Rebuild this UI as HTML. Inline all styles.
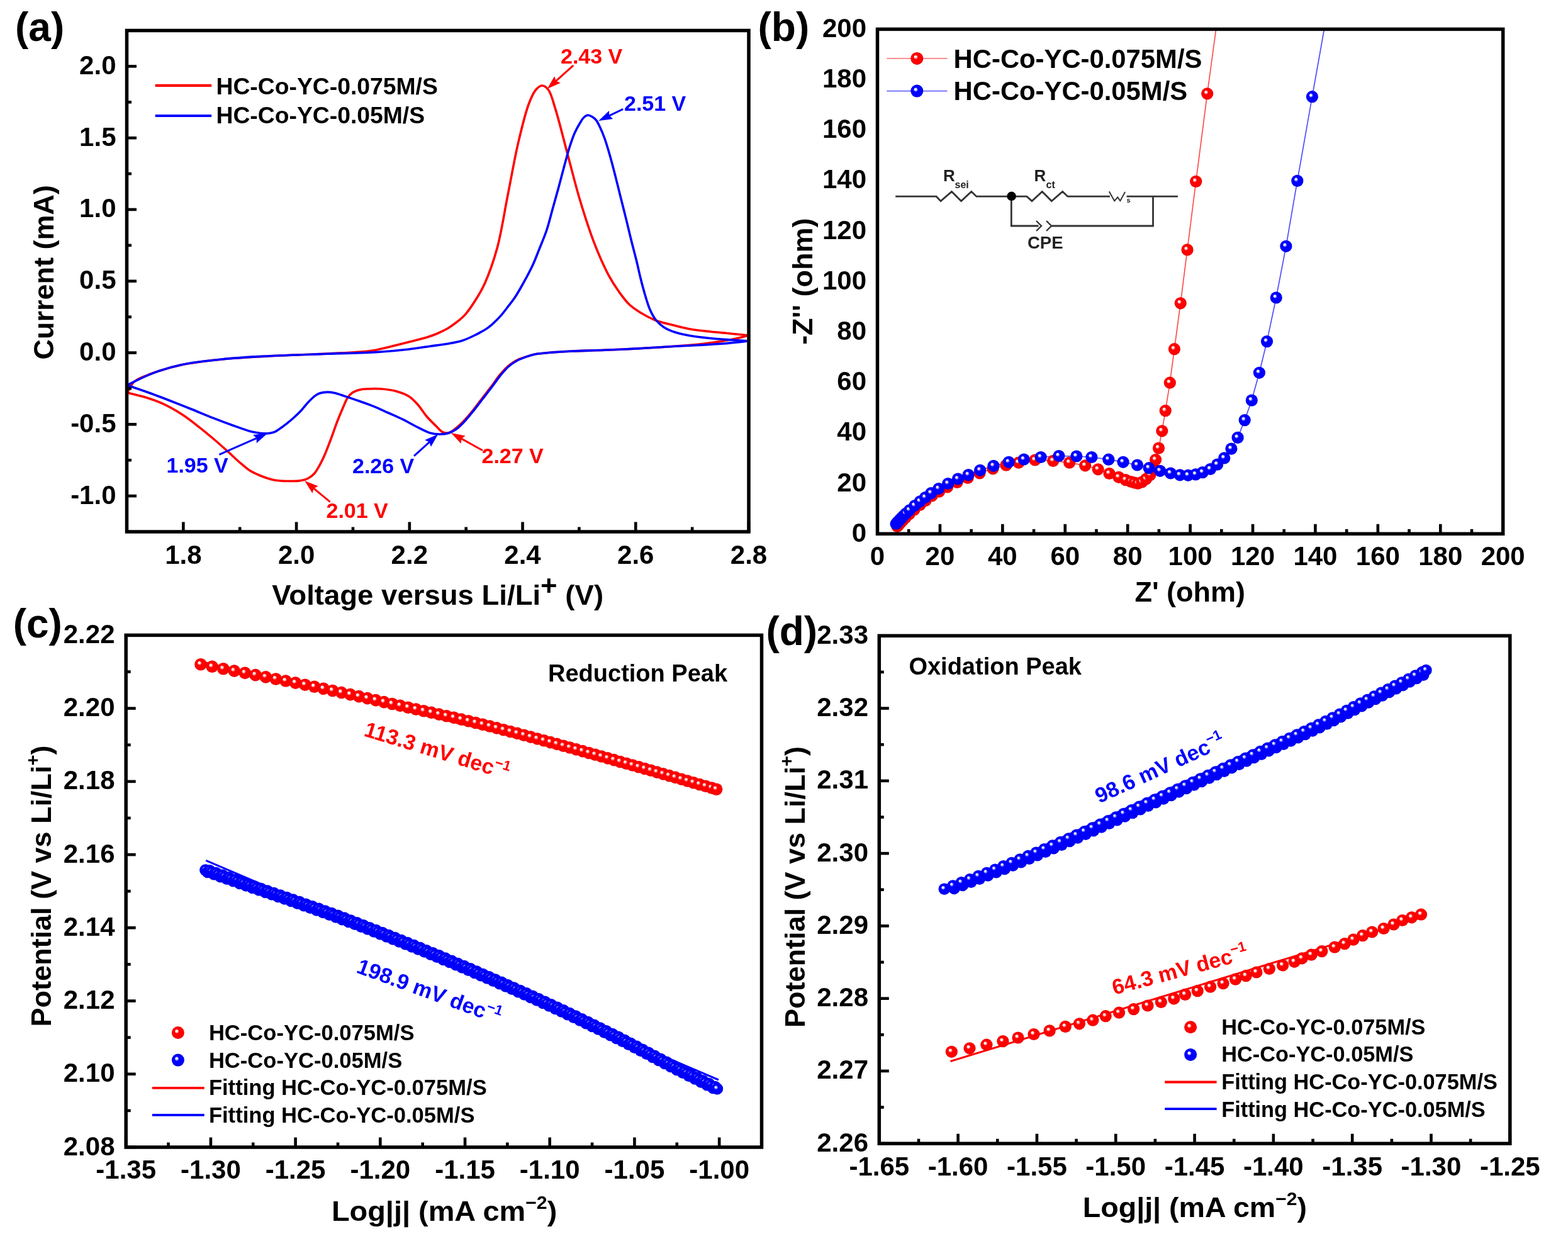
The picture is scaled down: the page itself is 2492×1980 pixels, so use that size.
<!DOCTYPE html>
<html><head><meta charset="utf-8"><title>Figure</title>
<style>html,body{margin:0;padding:0;background:#fff;overflow:hidden;}svg{display:block;}</style>
</head><body>
<svg width="2492" height="1980" viewBox="0 0 2492 1980" font-family="'Liberation Sans', Arial, Helvetica, sans-serif">
<rect width="2492" height="1980" fill="#fff"/>
<defs>
<radialGradient id="gr" cx="0.5" cy="0.5" r="0.5" fx="0.36" fy="0.34">
<stop offset="0" stop-color="#fff"/>
<stop offset="0.14" stop-color="#fff" stop-opacity="0.85"/>
<stop offset="0.36" stop-color="#ff0000"/>
<stop offset="0.85" stop-color="#ff0000"/>
<stop offset="1" stop-color="#e00000"/>
</radialGradient>
<radialGradient id="gb" cx="0.5" cy="0.5" r="0.5" fx="0.36" fy="0.34">
<stop offset="0" stop-color="#fff"/>
<stop offset="0.14" stop-color="#fff" stop-opacity="0.85"/>
<stop offset="0.36" stop-color="#0000ff"/>
<stop offset="0.85" stop-color="#0000ff"/>
<stop offset="1" stop-color="#0000dd"/>
</radialGradient>
<clipPath id="clipB"><rect x="1394.5" y="46.4" width="994.5" height="802"/></clipPath>
</defs>
<g fill="none" stroke-linejoin="round" stroke-linecap="round">
<path d="M202,624 C206,618 208.28,610.87 214,606 C220.74,600.26 230.91,597.4 241.4,593.5 C254.69,588.57 270.63,583.65 287.8,580 C308.49,575.6 334.08,572.83 357.3,570.5 C380.45,568.17 402.03,567.34 426.9,566 C455.6,564.45 491.01,563.55 519.7,562 C544.55,560.66 570.75,560.03 589.2,557.5 C601.6,555.8 609.38,553.46 620,551 C631.49,548.34 644.95,544.79 655.7,542 C664.59,539.69 672.92,537.74 680,535.5 C685.65,533.71 689.95,532.16 695,530 C700.38,527.7 706.21,524.99 711.3,522 C716.18,519.13 720.49,516.02 725,512.5 C729.8,508.76 734.43,505.42 739.2,500.1 C745.6,492.97 753.13,481.17 758.6,472.3 C763.3,464.68 766.42,459.52 770.5,450.3 C776.78,436.1 784.41,415.08 790.1,394.3 C796.95,369.32 801.38,338.23 807,310.2 C812.62,282.17 817.72,251.86 823.8,226.1 C829.04,203.87 834.75,179.64 840.6,164.5 C844.24,155.08 847.48,147.35 851.8,142.5 C854.78,139.15 858.33,136 861.6,136 C864.87,136 868.52,138.85 871.4,142.5 C876.19,148.55 878.65,160.48 882.6,172.9 C888.63,191.85 895.65,221.43 902.2,245.7 C908.75,269.99 914.76,294.89 921.9,318.6 C928.82,341.58 936.3,365.26 944.3,385.9 C951.35,404.1 959.22,422.21 966.7,436.3 C972.46,447.14 978.05,455.68 984,464 C989.29,471.39 994.18,478.27 1000.3,484 C1006.22,489.54 1013.05,493.83 1020,498 C1027.07,502.25 1034.17,506.07 1042.4,509.2 C1051.67,512.73 1063.34,515.08 1073.1,517.5 C1081.92,519.68 1089.54,521.65 1098.4,523.2 C1108.03,524.88 1118.59,525.87 1128.8,527 C1139.12,528.14 1149.7,528.99 1160,530 C1170.1,530.99 1180,532 1190,533" stroke="#ff0000" stroke-width="3.6"/>
<path d="M1190,533 C1180,535.33 1170.76,537.94 1160,540 C1147.67,542.36 1133.89,544.34 1120,546 C1105.01,547.79 1089.23,548.98 1073.1,550.2 C1055.96,551.5 1038.11,552.5 1020,553.5 C1001.05,554.54 980.64,555.54 961.8,556.3 C944.03,557.02 925.15,557.3 910,558 C898.14,558.55 888.56,559.03 878.3,559.9 C868.59,560.72 857.64,561.48 850,563 C844.65,564.06 841.14,565.45 836.6,566.9 C831.82,568.43 826.62,569.71 822,572 C817.31,574.33 812.98,577.24 808.7,580.8 C803.94,584.76 799.43,589.75 795,595 C790.13,600.77 785.63,607.96 780.9,614.2 C776.29,620.28 771.61,626 767,632 C762.34,638.06 757.93,644.41 753.1,650.4 C748.26,656.41 742.96,662.81 738,668 C733.68,672.51 729.46,676.61 725.2,680 C721.46,682.97 717.81,686.45 714,687.5 C710.72,688.41 707.19,688.32 704,687 C700.12,685.39 696.9,680.76 693,677 C688.3,672.46 682.66,667.06 677.9,661.5 C672.98,655.75 668.88,648.44 664,643 C659.57,638.07 655.59,633.5 650.1,630 C644.09,626.17 636.32,623.5 629,621.5 C621.56,619.47 613.34,618.57 605.8,618 C598.7,617.47 591.23,617.66 585,618 C579.89,618.27 575.4,618.42 571.1,619.5 C567.12,620.5 563.14,621.84 560,624 C556.99,626.06 554.77,628.66 552.5,632 C549.62,636.24 547.53,642.27 545,648 C542.13,654.49 539.3,661.28 536.3,669 C532.68,678.3 528.91,689.85 525,700 C521.17,709.94 517.5,720.29 513.1,729.3 C509.09,737.5 504.62,746.65 500,752 C496.76,755.75 493.76,758.02 489.9,760 C485.82,762.1 480.68,763.25 476,764 C471.41,764.73 466.97,764.48 462.1,764.5 C456.7,764.52 450.31,764.48 445,764 C440.33,763.58 436.55,763.13 431.9,762 C426.34,760.66 419.81,758.37 414,756 C408.21,753.64 402.56,751.26 397.1,747.8 C391.2,744.05 385.67,738.89 380,734 C374.07,728.88 368.57,723.36 362.3,717.7 C355.33,711.41 347.63,704.5 340,698 C332.21,691.36 324.24,684.73 316,678.3 C307.58,671.73 299.33,665.02 290,659 C280.08,652.6 268.5,646 258,641.2 C248.53,636.87 239.38,633.89 230,631 C220.81,628.17 211.53,626.33 202.3,624" stroke="#ff0000" stroke-width="3.6"/>
<path d="M202,612 C215.13,605.87 227.53,598.89 241.4,593.6 C256.04,588.02 270.61,583.4 287.8,579.7 C308.48,575.25 334.09,572.72 357.3,570.4 C380.45,568.09 402.02,567.09 426.9,565.8 C455.6,564.31 489.88,563.38 519.7,562.3 C547.43,561.29 576.41,560.97 600,559.5 C618.65,558.34 635.02,556.75 650,555 C662.3,553.57 672.99,551.69 683.5,550.2 C692.85,548.88 701.4,547.99 710,546.5 C718.25,545.07 726.38,543.95 734.1,541.5 C741.7,539.09 748.95,535.55 756,532 C762.95,528.5 769.77,525.09 776.1,520.4 C782.75,515.47 789.53,508.58 794.8,502.9 C799.2,498.16 802.23,493.84 806,489 C810.02,483.84 814.32,478.58 818.2,472.8 C822.34,466.64 825.86,460.38 830,453 C835.08,443.94 841.55,432.25 846.2,422.3 C850.41,413.3 853.38,405.05 857,396 C860.84,386.42 865.15,376.57 868.6,366.3 C872.19,355.6 874.82,344.38 878,333 C881.34,321.04 884.96,308.16 888.2,296.2 C891.28,284.86 894.1,273.63 897,263 C899.69,253.13 902.17,243.39 905,234.5 C907.54,226.51 909.98,218.84 913,212 C915.69,205.91 919.08,199.92 921.9,195.3 C924.02,191.83 925.65,188.6 928,186.5 C929.95,184.76 932.3,183.14 934.5,183 C936.64,182.86 938.96,184.31 941,185.5 C943.17,186.76 945.2,188.22 947.1,190.5 C949.65,193.56 951.81,198.41 954,203 C956.52,208.28 958.8,214.07 961.1,220.5 C963.83,228.15 966.38,236.9 969,246 C971.98,256.36 975.05,268.32 977.9,279.4 C980.71,290.32 983.24,300.97 986,312 C988.84,323.36 991.86,335.08 994.7,346.6 C997.53,358.08 1000.17,369.66 1003,381 C1005.77,392.13 1008.91,403.44 1011.5,414 C1013.88,423.7 1015.71,432.86 1018,442 C1020.22,450.85 1022.45,459.54 1025,468 C1027.47,476.2 1029.87,484.94 1033,492 C1035.66,498.01 1038.29,503.3 1042,508 C1045.65,512.61 1050,516.72 1055,520 C1060.29,523.47 1066.35,525.78 1073.1,528 C1081.07,530.62 1090.84,532.43 1100,534 C1109.4,535.61 1119,536.51 1128.8,537.5 C1138.98,538.53 1149.7,539.24 1160,540 C1170.1,540.74 1180,541.33 1190,542" stroke="#0000ff" stroke-width="3.6"/>
<path d="M1190,542 C1176.67,543.33 1163.34,544.92 1150,546 C1136.68,547.08 1123.07,547.79 1110,548.5 C1097.45,549.18 1086.51,549.47 1073.1,550.2 C1057,551.07 1038.11,552.5 1020,553.5 C1001.05,554.54 980.64,555.54 961.8,556.3 C944.03,557.02 925.15,557.3 910,558 C898.14,558.55 888.56,559.03 878.3,559.9 C868.59,560.72 857.64,561.48 850,563 C844.65,564.06 841.12,565.3 836.6,566.9 C831.79,568.6 826.63,570.5 822,573 C817.33,575.52 812.96,578.32 808.7,582 C803.91,586.14 799.46,591.58 795,597 C790.18,602.85 785.61,609.77 780.9,616 C776.28,622.1 771.63,628 767,634 C762.37,640 757.89,646.05 753.1,652 C748.23,658.05 742.98,664.74 738,670 C733.69,674.55 729.75,678.85 725.2,682 C721.04,684.88 716.54,687.17 712,688.5 C707.66,689.77 703.2,690.05 698.6,690 C693.71,689.95 688.95,689.6 683.5,688 C676.38,685.92 667.41,680.7 660,677 C653.18,673.6 647.44,670.06 640.6,666.7 C633.17,663.05 624.8,659.51 617,656 C609.34,652.55 601.97,648.95 594.2,645.8 C586.31,642.61 577.9,639.76 570,637 C562.48,634.38 554.67,631.82 547.9,629.6 C542.17,627.72 536.98,625.58 532,624.5 C527.77,623.58 523.99,623.02 520,623.1 C515.99,623.18 511.32,623.9 508,625 C505.42,625.85 503.85,626.74 501.5,628.4 C498.06,630.82 493.73,635.11 490,639 C485.98,643.19 482.37,648.49 478.3,652.8 C474.36,656.97 470.03,660.9 466,664.5 C462.31,667.79 458.71,670.78 455.1,673.6 C451.71,676.25 448.26,678.78 445,681 C442.08,682.99 439.44,685.14 436.5,686.4 C433.76,687.57 430.78,688.11 428,688.5 C425.39,688.87 423.16,688.89 420.3,688.8 C416.67,688.68 411.96,688.13 408,687.5 C404.24,686.91 401.5,686.41 397.1,685.2 C390.04,683.27 379.3,679.32 370,676 C360.01,672.43 349.62,668.52 339.1,664.4 C327.98,660.05 316.49,655.11 305,650.5 C293.32,645.81 281.35,641.03 269.6,636.5 C258.02,632.04 246.4,627.61 235,623.5 C223.97,619.52 213.2,615.97 202.3,612.2" stroke="#0000ff" stroke-width="3.6"/>
</g>
<rect x="201.5" y="48.5" width="988.5" height="796.5" fill="none" stroke="#000" stroke-width="5.5"/>
<line x1="291.36" y1="845" x2="291.36" y2="829.5" stroke="#000" stroke-width="4.6"/>
<line x1="471.09" y1="845" x2="471.09" y2="829.5" stroke="#000" stroke-width="4.6"/>
<line x1="650.82" y1="845" x2="650.82" y2="829.5" stroke="#000" stroke-width="4.6"/>
<line x1="830.55" y1="845" x2="830.55" y2="829.5" stroke="#000" stroke-width="4.6"/>
<line x1="1010.27" y1="845" x2="1010.27" y2="829.5" stroke="#000" stroke-width="4.6"/>
<line x1="1190" y1="845" x2="1190" y2="829.5" stroke="#000" stroke-width="4.6"/>
<line x1="381.23" y1="845" x2="381.23" y2="837.5" stroke="#000" stroke-width="4.6"/>
<line x1="560.95" y1="845" x2="560.95" y2="837.5" stroke="#000" stroke-width="4.6"/>
<line x1="740.68" y1="845" x2="740.68" y2="837.5" stroke="#000" stroke-width="4.6"/>
<line x1="920.41" y1="845" x2="920.41" y2="837.5" stroke="#000" stroke-width="4.6"/>
<line x1="1100.14" y1="845" x2="1100.14" y2="837.5" stroke="#000" stroke-width="4.6"/>
<line x1="201.5" y1="788.11" x2="217" y2="788.11" stroke="#000" stroke-width="4.6"/>
<line x1="201.5" y1="674.32" x2="217" y2="674.32" stroke="#000" stroke-width="4.6"/>
<line x1="201.5" y1="560.54" x2="217" y2="560.54" stroke="#000" stroke-width="4.6"/>
<line x1="201.5" y1="446.75" x2="217" y2="446.75" stroke="#000" stroke-width="4.6"/>
<line x1="201.5" y1="332.96" x2="217" y2="332.96" stroke="#000" stroke-width="4.6"/>
<line x1="201.5" y1="219.18" x2="217" y2="219.18" stroke="#000" stroke-width="4.6"/>
<line x1="201.5" y1="105.39" x2="217" y2="105.39" stroke="#000" stroke-width="4.6"/>
<line x1="201.5" y1="731.21" x2="209" y2="731.21" stroke="#000" stroke-width="4.6"/>
<line x1="201.5" y1="617.43" x2="209" y2="617.43" stroke="#000" stroke-width="4.6"/>
<line x1="201.5" y1="503.64" x2="209" y2="503.64" stroke="#000" stroke-width="4.6"/>
<line x1="201.5" y1="389.86" x2="209" y2="389.86" stroke="#000" stroke-width="4.6"/>
<line x1="201.5" y1="276.07" x2="209" y2="276.07" stroke="#000" stroke-width="4.6"/>
<line x1="201.5" y1="162.29" x2="209" y2="162.29" stroke="#000" stroke-width="4.6"/>
<text x="291.36" y="896" font-size="42" text-anchor="middle" fill="#000" font-weight="bold" >1.8</text>
<text x="471.09" y="896" font-size="42" text-anchor="middle" fill="#000" font-weight="bold" >2.0</text>
<text x="650.82" y="896" font-size="42" text-anchor="middle" fill="#000" font-weight="bold" >2.2</text>
<text x="830.55" y="896" font-size="42" text-anchor="middle" fill="#000" font-weight="bold" >2.4</text>
<text x="1010.27" y="896" font-size="42" text-anchor="middle" fill="#000" font-weight="bold" >2.6</text>
<text x="1190" y="896" font-size="42" text-anchor="middle" fill="#000" font-weight="bold" >2.8</text>
<text x="184.5" y="800.61" font-size="42" text-anchor="end" fill="#000" font-weight="bold" >-1.0</text>
<text x="184.5" y="686.82" font-size="42" text-anchor="end" fill="#000" font-weight="bold" >-0.5</text>
<text x="184.5" y="573.04" font-size="42" text-anchor="end" fill="#000" font-weight="bold" >0.0</text>
<text x="184.5" y="459.25" font-size="42" text-anchor="end" fill="#000" font-weight="bold" >0.5</text>
<text x="184.5" y="345.46" font-size="42" text-anchor="end" fill="#000" font-weight="bold" >1.0</text>
<text x="184.5" y="231.68" font-size="42" text-anchor="end" fill="#000" font-weight="bold" >1.5</text>
<text x="184.5" y="117.89" font-size="42" text-anchor="end" fill="#000" font-weight="bold" >2.0</text>
<line x1="246.7" y1="135.9" x2="336.2" y2="135.9" stroke="#ff0000" stroke-width="4.2"/>
<line x1="246.7" y1="184" x2="336.2" y2="184" stroke="#0000ff" stroke-width="4.2"/>
<text x="343.5" y="149.9" font-size="37.3" text-anchor="start" fill="#000" font-weight="bold" >HC-Co-YC-0.075M/S</text>
<text x="343.5" y="196.2" font-size="37.3" text-anchor="start" fill="#000" font-weight="bold" >HC-Co-YC-0.05M/S</text>
<text x="891" y="101" font-size="34" text-anchor="start" fill="#ff0000" font-weight="bold" >2.43 V</text>
<text x="992" y="176.2" font-size="34" text-anchor="start" fill="#0000ff" font-weight="bold" >2.51 V</text>
<text x="264.5" y="751.3" font-size="34" text-anchor="start" fill="#0000ff" font-weight="bold" >1.95 V</text>
<text x="560" y="752" font-size="34" text-anchor="start" fill="#0000ff" font-weight="bold" >2.26 V</text>
<text x="518.5" y="823.2" font-size="34" text-anchor="start" fill="#ff0000" font-weight="bold" >2.01 V</text>
<text x="765.5" y="736.1" font-size="34" text-anchor="start" fill="#ff0000" font-weight="bold" >2.27 V</text>
<line x1="911.3" y1="103.8" x2="883.68" y2="128.57" stroke="#ff0000" stroke-width="3.0"/>
<polygon points="869.6,141.2 881.17,121.15 883.68,128.57 890.79,131.87" fill="#ff0000"/>
<line x1="990.2" y1="173.4" x2="968.29" y2="183.79" stroke="#0000ff" stroke-width="3.0"/>
<polygon points="951.2,191.9 967.99,175.97 968.29,183.79 974.16,188.98" fill="#0000ff"/>
<line x1="348.4" y1="722.3" x2="407.67" y2="696.3" stroke="#0000ff" stroke-width="3.0"/>
<polygon points="425,688.7 407.75,704.13 407.67,696.3 401.96,690.94" fill="#0000ff"/>
<line x1="658" y1="724.7" x2="682.3" y2="702.62" stroke="#0000ff" stroke-width="3.0"/>
<polygon points="696.3,689.9 684.86,710.02 682.3,702.62 675.18,699.37" fill="#0000ff"/>
<line x1="524.7" y1="797.7" x2="498.68" y2="776.16" stroke="#ff0000" stroke-width="3.0"/>
<polygon points="484.1,764.1 505.64,772.58 498.68,776.16 496.46,783.67" fill="#ff0000"/>
<line x1="767" y1="715.8" x2="733.44" y2="697.18" stroke="#ff0000" stroke-width="3.0"/>
<polygon points="716.9,688 739.63,692.38 733.44,697.18 732.64,704.97" fill="#ff0000"/>
<text x="24" y="64.6" font-size="64" text-anchor="start" fill="#000" font-weight="bold" >(a)</text>
<text transform="translate(695.7,960.7) scale(1.012,1)" x="0" y="0" font-size="45" text-anchor="middle" font-weight="bold">Voltage versus Li/Li<tspan font-size="45" dy="-15">+</tspan><tspan dy="15"> (V)</tspan></text>
<text transform="translate(84.9,432.8) rotate(-90)" x="0" y="0" font-size="45" text-anchor="middle" font-weight="bold">Current (mA)</text>
<g fill="none" stroke="#333" stroke-width="2.8" stroke-linejoin="miter">
<polyline points="1423.2,312.2 1488.1,312.2 1495.1,319.6 1512.5,304.5 1527.6,319.6 1543.8,304.5 1551.9,312.2 1631.9,312.2 1640,319.6 1656.3,304.5 1671.3,319.6 1688.7,304.5 1696.8,312.2 1764,312.2"/>
<polyline points="1762.7,304.3 1771.2,319.2 1776.4,313.4 1780.3,319.2 1788.1,304.9" stroke-width="2"/>
<polyline points="1790.6,312.2 1871.9,312.2"/>
<polyline points="1607.3,312.2 1607.3,359 1650.5,359"/>
<polyline points="1647,351 1655,359 1647,367" stroke-width="2.4"/>
<polyline points="1663,351 1671,359 1663,367" stroke-width="2.4"/>
<polyline points="1671,359 1832.5,359 1832.5,312.2"/>
</g>
<circle cx="1607.6" cy="311.8" r="7.3" fill="#000"/>
<text x="1499" y="288.3" font-size="26" text-anchor="start" fill="#222" font-weight="bold" >R</text>
<text x="1517.5" y="298.5" font-size="16" text-anchor="start" fill="#222" font-weight="bold" >sei</text>
<text x="1643.5" y="288.3" font-size="26" text-anchor="start" fill="#222" font-weight="bold" >R</text>
<text x="1662.5" y="298.5" font-size="16" text-anchor="start" fill="#222" font-weight="bold" >ct</text>
<text x="1790.5" y="321.5" font-size="11" text-anchor="start" fill="#222" font-weight="bold" >s</text>
<text x="1633" y="395" font-size="27.5" text-anchor="start" fill="#222" font-weight="bold" >CPE</text>
<g clip-path="url(#clipB)">
<polyline points="1426,836.55 1427.5,834.86 1429.5,832.6 1432,829.78 1435,826.64 1439,822.62 1445,816.97 1453,809.87 1462,802.42 1471,795.53 1481,787.98 1492.5,781.14 1505.5,773.96 1521,766.38 1538,759.42 1557,751.85 1578,744.68 1599,739.14 1618.9,735.2 1644.9,731 1673.7,732.4 1699.6,735.1 1724.7,739.8 1745.1,745.8 1763,752.5 1778,758.3 1789,762.6 1797.5,765.5 1803,767 1808.4,768.2 1814.9,766 1821.4,761.3 1827.9,754.8 1834.4,745.5 1836.6,730.5 1841.5,712.1 1846.8,684.8 1852.2,652.6 1859.3,608.2 1866.4,554.7 1876.2,481.8 1887,396.9 1900.7,288.4 1918.7,148.8 1926,95 1933.5,40" fill="none" stroke="#ff0000" stroke-width="1.7" stroke-opacity="0.7"/>
<polyline points="1424.1,832.5 1425.5,830.93 1427.2,829.02 1429.7,826.22 1432.5,823.2 1435.5,820.2 1439.5,816.2 1445.5,810.81 1453.8,803.55 1462.2,796.81 1470.5,790.57 1479.8,783.6 1491.8,776.58 1506.7,768.5 1522.4,761.1 1539.1,754.6 1557.7,747.3 1579,740.3 1603.2,734.3 1627.3,730 1654.2,726.5 1682.9,724.5 1710.8,725 1734.9,726.5 1761.8,730.2 1785,734.3 1807.5,739 1826.1,743.7 1843.7,748.3 1860.4,752 1875.2,754.8 1888.2,755.3 1900.3,753.9 1911.4,750.6 1923.5,745.5 1934.6,738.1 1945.7,727.9 1956.9,713.1 1967.1,695.4 1978.2,667.6 1989.3,636.1 2001.4,592.3 2013.5,542.6 2028.2,473 2043.9,391.3 2061.8,287.4 2085.4,153.7 2095,100 2106,38" fill="none" stroke="#0000ff" stroke-width="1.7" stroke-opacity="0.7"/>
<circle cx="1426" cy="836.55" r="9.6" fill="url(#gr)"/>
<circle cx="1427.5" cy="834.86" r="9.6" fill="url(#gr)"/>
<circle cx="1429.5" cy="832.6" r="9.6" fill="url(#gr)"/>
<circle cx="1432" cy="829.78" r="9.6" fill="url(#gr)"/>
<circle cx="1435" cy="826.64" r="9.6" fill="url(#gr)"/>
<circle cx="1439" cy="822.62" r="9.6" fill="url(#gr)"/>
<circle cx="1445" cy="816.97" r="9.6" fill="url(#gr)"/>
<circle cx="1453" cy="809.87" r="9.6" fill="url(#gr)"/>
<circle cx="1462" cy="802.42" r="9.6" fill="url(#gr)"/>
<circle cx="1471" cy="795.53" r="9.6" fill="url(#gr)"/>
<circle cx="1481" cy="787.98" r="9.6" fill="url(#gr)"/>
<circle cx="1492.5" cy="781.14" r="9.6" fill="url(#gr)"/>
<circle cx="1505.5" cy="773.96" r="9.6" fill="url(#gr)"/>
<circle cx="1521" cy="766.38" r="9.6" fill="url(#gr)"/>
<circle cx="1538" cy="759.42" r="9.6" fill="url(#gr)"/>
<circle cx="1557" cy="751.85" r="9.6" fill="url(#gr)"/>
<circle cx="1578" cy="744.68" r="9.6" fill="url(#gr)"/>
<circle cx="1599" cy="739.14" r="9.6" fill="url(#gr)"/>
<circle cx="1618.9" cy="735.2" r="9.6" fill="url(#gr)"/>
<circle cx="1644.9" cy="731" r="9.6" fill="url(#gr)"/>
<circle cx="1673.7" cy="732.4" r="9.6" fill="url(#gr)"/>
<circle cx="1699.6" cy="735.1" r="9.6" fill="url(#gr)"/>
<circle cx="1724.7" cy="739.8" r="9.6" fill="url(#gr)"/>
<circle cx="1745.1" cy="745.8" r="9.6" fill="url(#gr)"/>
<circle cx="1763" cy="752.5" r="9.6" fill="url(#gr)"/>
<circle cx="1778" cy="758.3" r="9.6" fill="url(#gr)"/>
<circle cx="1789" cy="762.6" r="9.6" fill="url(#gr)"/>
<circle cx="1797.5" cy="765.5" r="9.6" fill="url(#gr)"/>
<circle cx="1803" cy="767" r="9.6" fill="url(#gr)"/>
<circle cx="1808.4" cy="768.2" r="9.6" fill="url(#gr)"/>
<circle cx="1814.9" cy="766" r="9.6" fill="url(#gr)"/>
<circle cx="1821.4" cy="761.3" r="9.6" fill="url(#gr)"/>
<circle cx="1827.9" cy="754.8" r="9.6" fill="url(#gr)"/>
<circle cx="1834.4" cy="745.5" r="9.6" fill="url(#gr)"/>
<circle cx="1836.6" cy="730.5" r="9.6" fill="url(#gr)"/>
<circle cx="1841.5" cy="712.1" r="9.6" fill="url(#gr)"/>
<circle cx="1846.8" cy="684.8" r="9.6" fill="url(#gr)"/>
<circle cx="1852.2" cy="652.6" r="9.6" fill="url(#gr)"/>
<circle cx="1859.3" cy="608.2" r="9.6" fill="url(#gr)"/>
<circle cx="1866.4" cy="554.7" r="9.6" fill="url(#gr)"/>
<circle cx="1876.2" cy="481.8" r="9.6" fill="url(#gr)"/>
<circle cx="1887" cy="396.9" r="9.6" fill="url(#gr)"/>
<circle cx="1900.7" cy="288.4" r="9.6" fill="url(#gr)"/>
<circle cx="1918.7" cy="148.8" r="9.6" fill="url(#gr)"/>
<circle cx="1424.1" cy="832.5" r="9.6" fill="url(#gb)"/>
<circle cx="1425.5" cy="830.93" r="9.6" fill="url(#gb)"/>
<circle cx="1427.2" cy="829.02" r="9.6" fill="url(#gb)"/>
<circle cx="1429.7" cy="826.22" r="9.6" fill="url(#gb)"/>
<circle cx="1432.5" cy="823.2" r="9.6" fill="url(#gb)"/>
<circle cx="1435.5" cy="820.2" r="9.6" fill="url(#gb)"/>
<circle cx="1439.5" cy="816.2" r="9.6" fill="url(#gb)"/>
<circle cx="1445.5" cy="810.81" r="9.6" fill="url(#gb)"/>
<circle cx="1453.8" cy="803.55" r="9.6" fill="url(#gb)"/>
<circle cx="1462.2" cy="796.81" r="9.6" fill="url(#gb)"/>
<circle cx="1470.5" cy="790.57" r="9.6" fill="url(#gb)"/>
<circle cx="1479.8" cy="783.6" r="9.6" fill="url(#gb)"/>
<circle cx="1491.8" cy="776.58" r="9.6" fill="url(#gb)"/>
<circle cx="1506.7" cy="768.5" r="9.6" fill="url(#gb)"/>
<circle cx="1522.4" cy="761.1" r="9.6" fill="url(#gb)"/>
<circle cx="1539.1" cy="754.6" r="9.6" fill="url(#gb)"/>
<circle cx="1557.7" cy="747.3" r="9.6" fill="url(#gb)"/>
<circle cx="1579" cy="740.3" r="9.6" fill="url(#gb)"/>
<circle cx="1603.2" cy="734.3" r="9.6" fill="url(#gb)"/>
<circle cx="1627.3" cy="730" r="9.6" fill="url(#gb)"/>
<circle cx="1654.2" cy="726.5" r="9.6" fill="url(#gb)"/>
<circle cx="1682.9" cy="724.5" r="9.6" fill="url(#gb)"/>
<circle cx="1710.8" cy="725" r="9.6" fill="url(#gb)"/>
<circle cx="1734.9" cy="726.5" r="9.6" fill="url(#gb)"/>
<circle cx="1761.8" cy="730.2" r="9.6" fill="url(#gb)"/>
<circle cx="1785" cy="734.3" r="9.6" fill="url(#gb)"/>
<circle cx="1807.5" cy="739" r="9.6" fill="url(#gb)"/>
<circle cx="1826.1" cy="743.7" r="9.6" fill="url(#gb)"/>
<circle cx="1843.7" cy="748.3" r="9.6" fill="url(#gb)"/>
<circle cx="1860.4" cy="752" r="9.6" fill="url(#gb)"/>
<circle cx="1875.2" cy="754.8" r="9.6" fill="url(#gb)"/>
<circle cx="1888.2" cy="755.3" r="9.6" fill="url(#gb)"/>
<circle cx="1900.3" cy="753.9" r="9.6" fill="url(#gb)"/>
<circle cx="1911.4" cy="750.6" r="9.6" fill="url(#gb)"/>
<circle cx="1923.5" cy="745.5" r="9.6" fill="url(#gb)"/>
<circle cx="1934.6" cy="738.1" r="9.6" fill="url(#gb)"/>
<circle cx="1945.7" cy="727.9" r="9.6" fill="url(#gb)"/>
<circle cx="1956.9" cy="713.1" r="9.6" fill="url(#gb)"/>
<circle cx="1967.1" cy="695.4" r="9.6" fill="url(#gb)"/>
<circle cx="1978.2" cy="667.6" r="9.6" fill="url(#gb)"/>
<circle cx="1989.3" cy="636.1" r="9.6" fill="url(#gb)"/>
<circle cx="2001.4" cy="592.3" r="9.6" fill="url(#gb)"/>
<circle cx="2013.5" cy="542.6" r="9.6" fill="url(#gb)"/>
<circle cx="2028.2" cy="473" r="9.6" fill="url(#gb)"/>
<circle cx="2043.9" cy="391.3" r="9.6" fill="url(#gb)"/>
<circle cx="2061.8" cy="287.4" r="9.6" fill="url(#gb)"/>
<circle cx="2085.4" cy="153.7" r="9.6" fill="url(#gb)"/>
</g>
<rect x="1394.5" y="46.4" width="994.2" height="801.9" fill="none" stroke="#000" stroke-width="5.5"/>
<line x1="1394.5" y1="848.3" x2="1394.5" y2="832.8" stroke="#000" stroke-width="4.6"/>
<line x1="1493.92" y1="848.3" x2="1493.92" y2="832.8" stroke="#000" stroke-width="4.6"/>
<line x1="1593.34" y1="848.3" x2="1593.34" y2="832.8" stroke="#000" stroke-width="4.6"/>
<line x1="1692.76" y1="848.3" x2="1692.76" y2="832.8" stroke="#000" stroke-width="4.6"/>
<line x1="1792.18" y1="848.3" x2="1792.18" y2="832.8" stroke="#000" stroke-width="4.6"/>
<line x1="1891.6" y1="848.3" x2="1891.6" y2="832.8" stroke="#000" stroke-width="4.6"/>
<line x1="1991.02" y1="848.3" x2="1991.02" y2="832.8" stroke="#000" stroke-width="4.6"/>
<line x1="2090.44" y1="848.3" x2="2090.44" y2="832.8" stroke="#000" stroke-width="4.6"/>
<line x1="2189.86" y1="848.3" x2="2189.86" y2="832.8" stroke="#000" stroke-width="4.6"/>
<line x1="2289.28" y1="848.3" x2="2289.28" y2="832.8" stroke="#000" stroke-width="4.6"/>
<line x1="2388.7" y1="848.3" x2="2388.7" y2="832.8" stroke="#000" stroke-width="4.6"/>
<line x1="1444.21" y1="848.3" x2="1444.21" y2="840.8" stroke="#000" stroke-width="4.6"/>
<line x1="1543.63" y1="848.3" x2="1543.63" y2="840.8" stroke="#000" stroke-width="4.6"/>
<line x1="1643.05" y1="848.3" x2="1643.05" y2="840.8" stroke="#000" stroke-width="4.6"/>
<line x1="1742.47" y1="848.3" x2="1742.47" y2="840.8" stroke="#000" stroke-width="4.6"/>
<line x1="1841.89" y1="848.3" x2="1841.89" y2="840.8" stroke="#000" stroke-width="4.6"/>
<line x1="1941.31" y1="848.3" x2="1941.31" y2="840.8" stroke="#000" stroke-width="4.6"/>
<line x1="2040.73" y1="848.3" x2="2040.73" y2="840.8" stroke="#000" stroke-width="4.6"/>
<line x1="2140.15" y1="848.3" x2="2140.15" y2="840.8" stroke="#000" stroke-width="4.6"/>
<line x1="2239.57" y1="848.3" x2="2239.57" y2="840.8" stroke="#000" stroke-width="4.6"/>
<line x1="2338.99" y1="848.3" x2="2338.99" y2="840.8" stroke="#000" stroke-width="4.6"/>
<text x="1394.5" y="898" font-size="42" text-anchor="middle" fill="#000" font-weight="bold" >0</text>
<text x="1493.92" y="898" font-size="42" text-anchor="middle" fill="#000" font-weight="bold" >20</text>
<text x="1593.34" y="898" font-size="42" text-anchor="middle" fill="#000" font-weight="bold" >40</text>
<text x="1692.76" y="898" font-size="42" text-anchor="middle" fill="#000" font-weight="bold" >60</text>
<text x="1792.18" y="898" font-size="42" text-anchor="middle" fill="#000" font-weight="bold" >80</text>
<text x="1891.6" y="898" font-size="42" text-anchor="middle" fill="#000" font-weight="bold" >100</text>
<text x="1991.02" y="898" font-size="42" text-anchor="middle" fill="#000" font-weight="bold" >120</text>
<text x="2090.44" y="898" font-size="42" text-anchor="middle" fill="#000" font-weight="bold" >140</text>
<text x="2189.86" y="898" font-size="42" text-anchor="middle" fill="#000" font-weight="bold" >160</text>
<text x="2289.28" y="898" font-size="42" text-anchor="middle" fill="#000" font-weight="bold" >180</text>
<text x="2388.7" y="898" font-size="42" text-anchor="middle" fill="#000" font-weight="bold" >200</text>
<text x="1377" y="860.8" font-size="42" text-anchor="end" fill="#000" font-weight="bold" >0</text>
<text x="1377" y="780.61" font-size="42" text-anchor="end" fill="#000" font-weight="bold" >20</text>
<text x="1377" y="700.42" font-size="42" text-anchor="end" fill="#000" font-weight="bold" >40</text>
<text x="1377" y="620.23" font-size="42" text-anchor="end" fill="#000" font-weight="bold" >60</text>
<text x="1377" y="540.04" font-size="42" text-anchor="end" fill="#000" font-weight="bold" >80</text>
<text x="1377" y="459.85" font-size="42" text-anchor="end" fill="#000" font-weight="bold" >100</text>
<text x="1377" y="379.66" font-size="42" text-anchor="end" fill="#000" font-weight="bold" >120</text>
<text x="1377" y="299.47" font-size="42" text-anchor="end" fill="#000" font-weight="bold" >140</text>
<text x="1377" y="219.28" font-size="42" text-anchor="end" fill="#000" font-weight="bold" >160</text>
<text x="1377" y="139.09" font-size="42" text-anchor="end" fill="#000" font-weight="bold" >180</text>
<text x="1377" y="58.9" font-size="42" text-anchor="end" fill="#000" font-weight="bold" >200</text>
<line x1="1409.3" y1="92.9" x2="1505.5" y2="92.9" stroke="#ff0000" stroke-width="1.7" stroke-opacity="0.5"/>
<line x1="1409.3" y1="144.6" x2="1505.5" y2="144.6" stroke="#0000ff" stroke-width="1.7" stroke-opacity="0.6"/>
<circle cx="1457.3" cy="92.9" r="10" fill="url(#gr)"/>
<circle cx="1457.3" cy="144.6" r="10" fill="url(#gb)"/>
<text x="1515.6" y="108" font-size="41.8" text-anchor="start" fill="#000" font-weight="bold" >HC-Co-YC-0.075M/S</text>
<text x="1515.6" y="158.8" font-size="41.8" text-anchor="start" fill="#000" font-weight="bold" >HC-Co-YC-0.05M/S</text>
<text x="1204.5" y="64.6" font-size="64" text-anchor="start" fill="#000" font-weight="bold" >(b)</text>
<text x="1891.25" y="956.3" font-size="45" text-anchor="middle" fill="#000" font-weight="bold" >Z' (ohm)</text>
<text transform="translate(1290.5,447.2) rotate(-90)" x="0" y="0" font-size="45" text-anchor="middle" font-weight="bold">-Z'' (ohm)</text>
<line x1="318" y1="1051" x2="1146" y2="1249" stroke="#ff0000" stroke-width="3"/>
<line x1="327.3" y1="1367.3" x2="1142" y2="1716" stroke="#0000ff" stroke-width="3"/>
<circle cx="319" cy="1055.8" r="9.8" fill="url(#gr)"/>
<circle cx="337.16" cy="1059.31" r="9.8" fill="url(#gr)"/>
<circle cx="354.93" cy="1062.75" r="9.8" fill="url(#gr)"/>
<circle cx="372.32" cy="1066.11" r="9.8" fill="url(#gr)"/>
<circle cx="389.34" cy="1069.42" r="9.8" fill="url(#gr)"/>
<circle cx="406.02" cy="1072.67" r="9.8" fill="url(#gr)"/>
<circle cx="422.37" cy="1075.86" r="9.8" fill="url(#gr)"/>
<circle cx="438.41" cy="1078.98" r="9.8" fill="url(#gr)"/>
<circle cx="454.14" cy="1082.06" r="9.8" fill="url(#gr)"/>
<circle cx="469.59" cy="1085.12" r="9.8" fill="url(#gr)"/>
<circle cx="484.75" cy="1088.19" r="9.8" fill="url(#gr)"/>
<circle cx="499.63" cy="1091.27" r="9.8" fill="url(#gr)"/>
<circle cx="514.25" cy="1094.37" r="9.8" fill="url(#gr)"/>
<circle cx="528.62" cy="1097.47" r="9.8" fill="url(#gr)"/>
<circle cx="542.76" cy="1100.56" r="9.8" fill="url(#gr)"/>
<circle cx="556.67" cy="1103.61" r="9.8" fill="url(#gr)"/>
<circle cx="570.38" cy="1106.64" r="9.8" fill="url(#gr)"/>
<circle cx="583.88" cy="1109.65" r="9.8" fill="url(#gr)"/>
<circle cx="597.18" cy="1112.64" r="9.8" fill="url(#gr)"/>
<circle cx="610.3" cy="1115.59" r="9.8" fill="url(#gr)"/>
<circle cx="623.24" cy="1118.52" r="9.8" fill="url(#gr)"/>
<circle cx="636.01" cy="1121.4" r="9.8" fill="url(#gr)"/>
<circle cx="648.63" cy="1124.23" r="9.8" fill="url(#gr)"/>
<circle cx="661.09" cy="1127" r="9.8" fill="url(#gr)"/>
<circle cx="673.42" cy="1129.72" r="9.8" fill="url(#gr)"/>
<circle cx="685.6" cy="1132.41" r="9.8" fill="url(#gr)"/>
<circle cx="697.64" cy="1135.08" r="9.8" fill="url(#gr)"/>
<circle cx="709.55" cy="1137.75" r="9.8" fill="url(#gr)"/>
<circle cx="721.33" cy="1140.41" r="9.8" fill="url(#gr)"/>
<circle cx="732.98" cy="1143.09" r="9.8" fill="url(#gr)"/>
<circle cx="744.51" cy="1145.79" r="9.8" fill="url(#gr)"/>
<circle cx="755.91" cy="1148.51" r="9.8" fill="url(#gr)"/>
<circle cx="767.2" cy="1151.28" r="9.8" fill="url(#gr)"/>
<circle cx="778.37" cy="1154.07" r="9.8" fill="url(#gr)"/>
<circle cx="789.44" cy="1156.89" r="9.8" fill="url(#gr)"/>
<circle cx="800.4" cy="1159.72" r="9.8" fill="url(#gr)"/>
<circle cx="811.27" cy="1162.56" r="9.8" fill="url(#gr)"/>
<circle cx="822.05" cy="1165.4" r="9.8" fill="url(#gr)"/>
<circle cx="832.75" cy="1168.25" r="9.8" fill="url(#gr)"/>
<circle cx="843.36" cy="1171.1" r="9.8" fill="url(#gr)"/>
<circle cx="853.9" cy="1173.94" r="9.8" fill="url(#gr)"/>
<circle cx="864.38" cy="1176.77" r="9.8" fill="url(#gr)"/>
<circle cx="874.78" cy="1179.59" r="9.8" fill="url(#gr)"/>
<circle cx="885.12" cy="1182.4" r="9.8" fill="url(#gr)"/>
<circle cx="895.4" cy="1185.2" r="9.8" fill="url(#gr)"/>
<circle cx="905.62" cy="1188.01" r="9.8" fill="url(#gr)"/>
<circle cx="915.78" cy="1190.83" r="9.8" fill="url(#gr)"/>
<circle cx="925.89" cy="1193.65" r="9.8" fill="url(#gr)"/>
<circle cx="935.95" cy="1196.46" r="9.8" fill="url(#gr)"/>
<circle cx="945.97" cy="1199.27" r="9.8" fill="url(#gr)"/>
<circle cx="955.94" cy="1202.07" r="9.8" fill="url(#gr)"/>
<circle cx="965.87" cy="1204.87" r="9.8" fill="url(#gr)"/>
<circle cx="975.77" cy="1207.66" r="9.8" fill="url(#gr)"/>
<circle cx="985.63" cy="1210.45" r="9.8" fill="url(#gr)"/>
<circle cx="995.47" cy="1213.22" r="9.8" fill="url(#gr)"/>
<circle cx="1005.27" cy="1215.99" r="9.8" fill="url(#gr)"/>
<circle cx="1015.05" cy="1218.75" r="9.8" fill="url(#gr)"/>
<circle cx="1024.79" cy="1221.52" r="9.8" fill="url(#gr)"/>
<circle cx="1034.52" cy="1224.3" r="9.8" fill="url(#gr)"/>
<circle cx="1044.22" cy="1227.08" r="9.8" fill="url(#gr)"/>
<circle cx="1053.9" cy="1229.87" r="9.8" fill="url(#gr)"/>
<circle cx="1063.57" cy="1232.65" r="9.8" fill="url(#gr)"/>
<circle cx="1073.22" cy="1235.42" r="9.8" fill="url(#gr)"/>
<circle cx="1082.87" cy="1238.19" r="9.8" fill="url(#gr)"/>
<circle cx="1092.5" cy="1240.96" r="9.8" fill="url(#gr)"/>
<circle cx="1102.13" cy="1243.72" r="9.8" fill="url(#gr)"/>
<circle cx="1111.75" cy="1246.49" r="9.8" fill="url(#gr)"/>
<circle cx="1121.36" cy="1249.26" r="9.8" fill="url(#gr)"/>
<circle cx="1130.97" cy="1252.03" r="9.8" fill="url(#gr)"/>
<circle cx="1138.5" cy="1254.2" r="9.8" fill="url(#gr)"/>
<circle cx="326.5" cy="1382.6" r="9.4" fill="url(#gb)"/>
<circle cx="329.89" cy="1385.8" r="9.4" fill="url(#gb)"/>
<circle cx="333.29" cy="1383.5" r="9.4" fill="url(#gb)"/>
<circle cx="336.68" cy="1386.2" r="9.4" fill="url(#gb)"/>
<circle cx="340.08" cy="1389.4" r="9.4" fill="url(#gb)"/>
<circle cx="343.47" cy="1387.1" r="9.4" fill="url(#gb)"/>
<circle cx="346.86" cy="1389.8" r="9.4" fill="url(#gb)"/>
<circle cx="350.26" cy="1393" r="9.4" fill="url(#gb)"/>
<circle cx="353.65" cy="1390.7" r="9.4" fill="url(#gb)"/>
<circle cx="357.05" cy="1393.4" r="9.4" fill="url(#gb)"/>
<circle cx="360.44" cy="1396.6" r="9.4" fill="url(#gb)"/>
<circle cx="363.84" cy="1394.3" r="9.4" fill="url(#gb)"/>
<circle cx="367.23" cy="1397" r="9.4" fill="url(#gb)"/>
<circle cx="370.63" cy="1400.19" r="9.4" fill="url(#gb)"/>
<circle cx="374.02" cy="1397.89" r="9.4" fill="url(#gb)"/>
<circle cx="377.42" cy="1400.58" r="9.4" fill="url(#gb)"/>
<circle cx="380.81" cy="1403.78" r="9.4" fill="url(#gb)"/>
<circle cx="384.21" cy="1401.47" r="9.4" fill="url(#gb)"/>
<circle cx="387.61" cy="1404.16" r="9.4" fill="url(#gb)"/>
<circle cx="391" cy="1407.36" r="9.4" fill="url(#gb)"/>
<circle cx="394.4" cy="1405.04" r="9.4" fill="url(#gb)"/>
<circle cx="397.8" cy="1407.73" r="9.4" fill="url(#gb)"/>
<circle cx="401.2" cy="1410.92" r="9.4" fill="url(#gb)"/>
<circle cx="404.6" cy="1408.6" r="9.4" fill="url(#gb)"/>
<circle cx="408" cy="1411.28" r="9.4" fill="url(#gb)"/>
<circle cx="411.41" cy="1414.45" r="9.4" fill="url(#gb)"/>
<circle cx="414.81" cy="1412.12" r="9.4" fill="url(#gb)"/>
<circle cx="418.21" cy="1414.79" r="9.4" fill="url(#gb)"/>
<circle cx="421.62" cy="1417.96" r="9.4" fill="url(#gb)"/>
<circle cx="425.03" cy="1415.63" r="9.4" fill="url(#gb)"/>
<circle cx="428.43" cy="1418.29" r="9.4" fill="url(#gb)"/>
<circle cx="431.84" cy="1421.46" r="9.4" fill="url(#gb)"/>
<circle cx="435.24" cy="1419.12" r="9.4" fill="url(#gb)"/>
<circle cx="438.65" cy="1421.78" r="9.4" fill="url(#gb)"/>
<circle cx="442.06" cy="1424.95" r="9.4" fill="url(#gb)"/>
<circle cx="445.46" cy="1422.62" r="9.4" fill="url(#gb)"/>
<circle cx="448.87" cy="1425.28" r="9.4" fill="url(#gb)"/>
<circle cx="452.27" cy="1428.45" r="9.4" fill="url(#gb)"/>
<circle cx="455.68" cy="1426.12" r="9.4" fill="url(#gb)"/>
<circle cx="459.08" cy="1428.8" r="9.4" fill="url(#gb)"/>
<circle cx="462.48" cy="1431.97" r="9.4" fill="url(#gb)"/>
<circle cx="465.88" cy="1429.66" r="9.4" fill="url(#gb)"/>
<circle cx="469.28" cy="1432.34" r="9.4" fill="url(#gb)"/>
<circle cx="472.68" cy="1435.53" r="9.4" fill="url(#gb)"/>
<circle cx="476.08" cy="1433.22" r="9.4" fill="url(#gb)"/>
<circle cx="479.47" cy="1435.92" r="9.4" fill="url(#gb)"/>
<circle cx="482.87" cy="1439.11" r="9.4" fill="url(#gb)"/>
<circle cx="486.26" cy="1436.81" r="9.4" fill="url(#gb)"/>
<circle cx="489.66" cy="1439.51" r="9.4" fill="url(#gb)"/>
<circle cx="493.06" cy="1442.7" r="9.4" fill="url(#gb)"/>
<circle cx="496.45" cy="1440.4" r="9.4" fill="url(#gb)"/>
<circle cx="499.85" cy="1443.09" r="9.4" fill="url(#gb)"/>
<circle cx="503.24" cy="1446.29" r="9.4" fill="url(#gb)"/>
<circle cx="506.64" cy="1443.99" r="9.4" fill="url(#gb)"/>
<circle cx="510.03" cy="1446.69" r="9.4" fill="url(#gb)"/>
<circle cx="513.42" cy="1449.9" r="9.4" fill="url(#gb)"/>
<circle cx="516.81" cy="1447.61" r="9.4" fill="url(#gb)"/>
<circle cx="520.2" cy="1450.32" r="9.4" fill="url(#gb)"/>
<circle cx="523.59" cy="1453.54" r="9.4" fill="url(#gb)"/>
<circle cx="526.97" cy="1451.27" r="9.4" fill="url(#gb)"/>
<circle cx="530.35" cy="1454" r="9.4" fill="url(#gb)"/>
<circle cx="533.74" cy="1457.24" r="9.4" fill="url(#gb)"/>
<circle cx="537.11" cy="1454.99" r="9.4" fill="url(#gb)"/>
<circle cx="540.49" cy="1457.74" r="9.4" fill="url(#gb)"/>
<circle cx="543.86" cy="1461" r="9.4" fill="url(#gb)"/>
<circle cx="547.23" cy="1458.76" r="9.4" fill="url(#gb)"/>
<circle cx="550.6" cy="1461.52" r="9.4" fill="url(#gb)"/>
<circle cx="553.97" cy="1464.8" r="9.4" fill="url(#gb)"/>
<circle cx="557.33" cy="1462.58" r="9.4" fill="url(#gb)"/>
<circle cx="560.7" cy="1465.37" r="9.4" fill="url(#gb)"/>
<circle cx="564.06" cy="1468.66" r="9.4" fill="url(#gb)"/>
<circle cx="567.41" cy="1466.45" r="9.4" fill="url(#gb)"/>
<circle cx="570.77" cy="1469.25" r="9.4" fill="url(#gb)"/>
<circle cx="574.13" cy="1472.55" r="9.4" fill="url(#gb)"/>
<circle cx="577.49" cy="1470.35" r="9.4" fill="url(#gb)"/>
<circle cx="580.84" cy="1473.16" r="9.4" fill="url(#gb)"/>
<circle cx="584.2" cy="1476.47" r="9.4" fill="url(#gb)"/>
<circle cx="587.55" cy="1474.28" r="9.4" fill="url(#gb)"/>
<circle cx="590.9" cy="1477.09" r="9.4" fill="url(#gb)"/>
<circle cx="594.25" cy="1480.4" r="9.4" fill="url(#gb)"/>
<circle cx="597.6" cy="1478.22" r="9.4" fill="url(#gb)"/>
<circle cx="600.95" cy="1481.04" r="9.4" fill="url(#gb)"/>
<circle cx="604.3" cy="1484.36" r="9.4" fill="url(#gb)"/>
<circle cx="607.65" cy="1482.18" r="9.4" fill="url(#gb)"/>
<circle cx="611" cy="1485" r="9.4" fill="url(#gb)"/>
<circle cx="614.35" cy="1488.33" r="9.4" fill="url(#gb)"/>
<circle cx="617.69" cy="1486.15" r="9.4" fill="url(#gb)"/>
<circle cx="621.04" cy="1488.98" r="9.4" fill="url(#gb)"/>
<circle cx="624.38" cy="1492.31" r="9.4" fill="url(#gb)"/>
<circle cx="627.73" cy="1490.14" r="9.4" fill="url(#gb)"/>
<circle cx="631.08" cy="1492.97" r="9.4" fill="url(#gb)"/>
<circle cx="634.42" cy="1496.31" r="9.4" fill="url(#gb)"/>
<circle cx="637.76" cy="1494.14" r="9.4" fill="url(#gb)"/>
<circle cx="641.1" cy="1496.98" r="9.4" fill="url(#gb)"/>
<circle cx="644.45" cy="1500.32" r="9.4" fill="url(#gb)"/>
<circle cx="647.79" cy="1498.16" r="9.4" fill="url(#gb)"/>
<circle cx="651.13" cy="1501" r="9.4" fill="url(#gb)"/>
<circle cx="654.47" cy="1504.35" r="9.4" fill="url(#gb)"/>
<circle cx="657.81" cy="1502.19" r="9.4" fill="url(#gb)"/>
<circle cx="661.14" cy="1505.04" r="9.4" fill="url(#gb)"/>
<circle cx="664.48" cy="1508.39" r="9.4" fill="url(#gb)"/>
<circle cx="667.82" cy="1506.24" r="9.4" fill="url(#gb)"/>
<circle cx="671.15" cy="1509.1" r="9.4" fill="url(#gb)"/>
<circle cx="674.49" cy="1512.46" r="9.4" fill="url(#gb)"/>
<circle cx="677.82" cy="1510.31" r="9.4" fill="url(#gb)"/>
<circle cx="681.15" cy="1513.17" r="9.4" fill="url(#gb)"/>
<circle cx="684.48" cy="1516.54" r="9.4" fill="url(#gb)"/>
<circle cx="687.82" cy="1514.41" r="9.4" fill="url(#gb)"/>
<circle cx="691.15" cy="1517.27" r="9.4" fill="url(#gb)"/>
<circle cx="694.47" cy="1520.65" r="9.4" fill="url(#gb)"/>
<circle cx="697.8" cy="1518.52" r="9.4" fill="url(#gb)"/>
<circle cx="701.13" cy="1521.4" r="9.4" fill="url(#gb)"/>
<circle cx="704.45" cy="1524.78" r="9.4" fill="url(#gb)"/>
<circle cx="707.77" cy="1522.66" r="9.4" fill="url(#gb)"/>
<circle cx="711.1" cy="1525.55" r="9.4" fill="url(#gb)"/>
<circle cx="714.42" cy="1528.94" r="9.4" fill="url(#gb)"/>
<circle cx="717.74" cy="1526.83" r="9.4" fill="url(#gb)"/>
<circle cx="721.06" cy="1529.73" r="9.4" fill="url(#gb)"/>
<circle cx="724.37" cy="1533.13" r="9.4" fill="url(#gb)"/>
<circle cx="727.69" cy="1531.03" r="9.4" fill="url(#gb)"/>
<circle cx="731.01" cy="1533.93" r="9.4" fill="url(#gb)"/>
<circle cx="734.32" cy="1537.34" r="9.4" fill="url(#gb)"/>
<circle cx="737.63" cy="1535.25" r="9.4" fill="url(#gb)"/>
<circle cx="740.94" cy="1538.15" r="9.4" fill="url(#gb)"/>
<circle cx="744.25" cy="1541.57" r="9.4" fill="url(#gb)"/>
<circle cx="747.56" cy="1539.49" r="9.4" fill="url(#gb)"/>
<circle cx="750.87" cy="1542.4" r="9.4" fill="url(#gb)"/>
<circle cx="754.18" cy="1545.83" r="9.4" fill="url(#gb)"/>
<circle cx="757.49" cy="1543.75" r="9.4" fill="url(#gb)"/>
<circle cx="760.79" cy="1546.68" r="9.4" fill="url(#gb)"/>
<circle cx="764.1" cy="1550.1" r="9.4" fill="url(#gb)"/>
<circle cx="767.4" cy="1548.03" r="9.4" fill="url(#gb)"/>
<circle cx="770.7" cy="1550.96" r="9.4" fill="url(#gb)"/>
<circle cx="774.01" cy="1554.4" r="9.4" fill="url(#gb)"/>
<circle cx="777.31" cy="1552.33" r="9.4" fill="url(#gb)"/>
<circle cx="780.61" cy="1555.27" r="9.4" fill="url(#gb)"/>
<circle cx="783.91" cy="1558.7" r="9.4" fill="url(#gb)"/>
<circle cx="787.21" cy="1556.64" r="9.4" fill="url(#gb)"/>
<circle cx="790.51" cy="1559.58" r="9.4" fill="url(#gb)"/>
<circle cx="793.81" cy="1563.02" r="9.4" fill="url(#gb)"/>
<circle cx="797.11" cy="1560.96" r="9.4" fill="url(#gb)"/>
<circle cx="800.41" cy="1563.91" r="9.4" fill="url(#gb)"/>
<circle cx="803.7" cy="1567.35" r="9.4" fill="url(#gb)"/>
<circle cx="807" cy="1565.3" r="9.4" fill="url(#gb)"/>
<circle cx="810.3" cy="1568.25" r="9.4" fill="url(#gb)"/>
<circle cx="813.59" cy="1571.7" r="9.4" fill="url(#gb)"/>
<circle cx="816.88" cy="1569.66" r="9.4" fill="url(#gb)"/>
<circle cx="820.18" cy="1572.61" r="9.4" fill="url(#gb)"/>
<circle cx="823.47" cy="1576.07" r="9.4" fill="url(#gb)"/>
<circle cx="826.76" cy="1574.03" r="9.4" fill="url(#gb)"/>
<circle cx="830.05" cy="1577" r="9.4" fill="url(#gb)"/>
<circle cx="833.33" cy="1580.46" r="9.4" fill="url(#gb)"/>
<circle cx="836.62" cy="1578.43" r="9.4" fill="url(#gb)"/>
<circle cx="839.91" cy="1581.4" r="9.4" fill="url(#gb)"/>
<circle cx="843.19" cy="1584.88" r="9.4" fill="url(#gb)"/>
<circle cx="846.47" cy="1582.86" r="9.4" fill="url(#gb)"/>
<circle cx="849.75" cy="1585.84" r="9.4" fill="url(#gb)"/>
<circle cx="853.03" cy="1589.33" r="9.4" fill="url(#gb)"/>
<circle cx="856.31" cy="1587.31" r="9.4" fill="url(#gb)"/>
<circle cx="859.59" cy="1590.3" r="9.4" fill="url(#gb)"/>
<circle cx="862.86" cy="1593.8" r="9.4" fill="url(#gb)"/>
<circle cx="866.13" cy="1591.8" r="9.4" fill="url(#gb)"/>
<circle cx="869.41" cy="1594.8" r="9.4" fill="url(#gb)"/>
<circle cx="872.67" cy="1598.31" r="9.4" fill="url(#gb)"/>
<circle cx="875.94" cy="1596.32" r="9.4" fill="url(#gb)"/>
<circle cx="879.21" cy="1599.33" r="9.4" fill="url(#gb)"/>
<circle cx="882.47" cy="1602.85" r="9.4" fill="url(#gb)"/>
<circle cx="885.73" cy="1600.88" r="9.4" fill="url(#gb)"/>
<circle cx="889" cy="1603.9" r="9.4" fill="url(#gb)"/>
<circle cx="892.25" cy="1607.43" r="9.4" fill="url(#gb)"/>
<circle cx="895.51" cy="1605.46" r="9.4" fill="url(#gb)"/>
<circle cx="898.77" cy="1608.5" r="9.4" fill="url(#gb)"/>
<circle cx="902.02" cy="1612.03" r="9.4" fill="url(#gb)"/>
<circle cx="905.28" cy="1610.08" r="9.4" fill="url(#gb)"/>
<circle cx="908.53" cy="1613.12" r="9.4" fill="url(#gb)"/>
<circle cx="911.78" cy="1616.67" r="9.4" fill="url(#gb)"/>
<circle cx="915.03" cy="1614.72" r="9.4" fill="url(#gb)"/>
<circle cx="918.28" cy="1617.77" r="9.4" fill="url(#gb)"/>
<circle cx="921.52" cy="1621.33" r="9.4" fill="url(#gb)"/>
<circle cx="924.77" cy="1619.39" r="9.4" fill="url(#gb)"/>
<circle cx="928.01" cy="1622.45" r="9.4" fill="url(#gb)"/>
<circle cx="931.25" cy="1626.01" r="9.4" fill="url(#gb)"/>
<circle cx="934.49" cy="1624.08" r="9.4" fill="url(#gb)"/>
<circle cx="937.73" cy="1627.15" r="9.4" fill="url(#gb)"/>
<circle cx="940.97" cy="1630.73" r="9.4" fill="url(#gb)"/>
<circle cx="944.2" cy="1628.81" r="9.4" fill="url(#gb)"/>
<circle cx="947.44" cy="1631.89" r="9.4" fill="url(#gb)"/>
<circle cx="950.67" cy="1635.47" r="9.4" fill="url(#gb)"/>
<circle cx="953.9" cy="1633.55" r="9.4" fill="url(#gb)"/>
<circle cx="957.13" cy="1636.64" r="9.4" fill="url(#gb)"/>
<circle cx="960.37" cy="1640.23" r="9.4" fill="url(#gb)"/>
<circle cx="963.59" cy="1638.33" r="9.4" fill="url(#gb)"/>
<circle cx="966.82" cy="1641.43" r="9.4" fill="url(#gb)"/>
<circle cx="970.04" cy="1645.03" r="9.4" fill="url(#gb)"/>
<circle cx="973.26" cy="1643.14" r="9.4" fill="url(#gb)"/>
<circle cx="976.48" cy="1646.24" r="9.4" fill="url(#gb)"/>
<circle cx="979.7" cy="1649.85" r="9.4" fill="url(#gb)"/>
<circle cx="982.92" cy="1647.98" r="9.4" fill="url(#gb)"/>
<circle cx="986.13" cy="1651.1" r="9.4" fill="url(#gb)"/>
<circle cx="989.34" cy="1654.72" r="9.4" fill="url(#gb)"/>
<circle cx="992.55" cy="1652.87" r="9.4" fill="url(#gb)"/>
<circle cx="995.75" cy="1656.01" r="9.4" fill="url(#gb)"/>
<circle cx="998.95" cy="1659.66" r="9.4" fill="url(#gb)"/>
<circle cx="1002.15" cy="1657.81" r="9.4" fill="url(#gb)"/>
<circle cx="1005.34" cy="1660.97" r="9.4" fill="url(#gb)"/>
<circle cx="1008.54" cy="1664.63" r="9.4" fill="url(#gb)"/>
<circle cx="1011.73" cy="1662.8" r="9.4" fill="url(#gb)"/>
<circle cx="1014.91" cy="1665.97" r="9.4" fill="url(#gb)"/>
<circle cx="1018.1" cy="1669.65" r="9.4" fill="url(#gb)"/>
<circle cx="1021.29" cy="1667.82" r="9.4" fill="url(#gb)"/>
<circle cx="1024.47" cy="1671" r="9.4" fill="url(#gb)"/>
<circle cx="1027.66" cy="1674.68" r="9.4" fill="url(#gb)"/>
<circle cx="1030.84" cy="1672.86" r="9.4" fill="url(#gb)"/>
<circle cx="1034.02" cy="1676.05" r="9.4" fill="url(#gb)"/>
<circle cx="1037.21" cy="1679.73" r="9.4" fill="url(#gb)"/>
<circle cx="1040.39" cy="1677.91" r="9.4" fill="url(#gb)"/>
<circle cx="1043.57" cy="1681.09" r="9.4" fill="url(#gb)"/>
<circle cx="1046.75" cy="1684.77" r="9.4" fill="url(#gb)"/>
<circle cx="1049.94" cy="1682.95" r="9.4" fill="url(#gb)"/>
<circle cx="1053.12" cy="1686.13" r="9.4" fill="url(#gb)"/>
<circle cx="1056.31" cy="1689.8" r="9.4" fill="url(#gb)"/>
<circle cx="1059.5" cy="1687.97" r="9.4" fill="url(#gb)"/>
<circle cx="1062.69" cy="1691.14" r="9.4" fill="url(#gb)"/>
<circle cx="1065.89" cy="1694.8" r="9.4" fill="url(#gb)"/>
<circle cx="1069.08" cy="1692.96" r="9.4" fill="url(#gb)"/>
<circle cx="1072.28" cy="1696.11" r="9.4" fill="url(#gb)"/>
<circle cx="1075.49" cy="1699.75" r="9.4" fill="url(#gb)"/>
<circle cx="1078.69" cy="1697.89" r="9.4" fill="url(#gb)"/>
<circle cx="1081.9" cy="1701.02" r="9.4" fill="url(#gb)"/>
<circle cx="1085.11" cy="1704.66" r="9.4" fill="url(#gb)"/>
<circle cx="1088.31" cy="1702.79" r="9.4" fill="url(#gb)"/>
<circle cx="1091.53" cy="1705.92" r="9.4" fill="url(#gb)"/>
<circle cx="1094.74" cy="1709.55" r="9.4" fill="url(#gb)"/>
<circle cx="1097.95" cy="1707.67" r="9.4" fill="url(#gb)"/>
<circle cx="1101.16" cy="1710.79" r="9.4" fill="url(#gb)"/>
<circle cx="1104.38" cy="1714.41" r="9.4" fill="url(#gb)"/>
<circle cx="1107.59" cy="1712.53" r="9.4" fill="url(#gb)"/>
<circle cx="1110.81" cy="1715.65" r="9.4" fill="url(#gb)"/>
<circle cx="1114.03" cy="1719.26" r="9.4" fill="url(#gb)"/>
<circle cx="1117.24" cy="1717.38" r="9.4" fill="url(#gb)"/>
<circle cx="1120.46" cy="1720.49" r="9.4" fill="url(#gb)"/>
<circle cx="1123.68" cy="1724.11" r="9.4" fill="url(#gb)"/>
<circle cx="1126.9" cy="1722.22" r="9.4" fill="url(#gb)"/>
<circle cx="1130.12" cy="1725.33" r="9.4" fill="url(#gb)"/>
<circle cx="1133.33" cy="1728.95" r="9.4" fill="url(#gb)"/>
<circle cx="1136.55" cy="1727.06" r="9.4" fill="url(#gb)"/>
<circle cx="1139.77" cy="1730.18" r="9.4" fill="url(#gb)"/>
<rect x="200.2" y="1009.4" width="1010.3" height="813.6" fill="none" stroke="#000" stroke-width="5.5"/>
<line x1="200.2" y1="1823" x2="200.2" y2="1807.5" stroke="#000" stroke-width="4.6"/>
<line x1="334.91" y1="1823" x2="334.91" y2="1807.5" stroke="#000" stroke-width="4.6"/>
<line x1="469.61" y1="1823" x2="469.61" y2="1807.5" stroke="#000" stroke-width="4.6"/>
<line x1="604.32" y1="1823" x2="604.32" y2="1807.5" stroke="#000" stroke-width="4.6"/>
<line x1="739.03" y1="1823" x2="739.03" y2="1807.5" stroke="#000" stroke-width="4.6"/>
<line x1="873.73" y1="1823" x2="873.73" y2="1807.5" stroke="#000" stroke-width="4.6"/>
<line x1="1008.44" y1="1823" x2="1008.44" y2="1807.5" stroke="#000" stroke-width="4.6"/>
<line x1="1143.15" y1="1823" x2="1143.15" y2="1807.5" stroke="#000" stroke-width="4.6"/>
<line x1="267.55" y1="1823" x2="267.55" y2="1815.5" stroke="#000" stroke-width="4.6"/>
<line x1="402.26" y1="1823" x2="402.26" y2="1815.5" stroke="#000" stroke-width="4.6"/>
<line x1="536.97" y1="1823" x2="536.97" y2="1815.5" stroke="#000" stroke-width="4.6"/>
<line x1="671.67" y1="1823" x2="671.67" y2="1815.5" stroke="#000" stroke-width="4.6"/>
<line x1="806.38" y1="1823" x2="806.38" y2="1815.5" stroke="#000" stroke-width="4.6"/>
<line x1="941.09" y1="1823" x2="941.09" y2="1815.5" stroke="#000" stroke-width="4.6"/>
<line x1="1075.79" y1="1823" x2="1075.79" y2="1815.5" stroke="#000" stroke-width="4.6"/>
<line x1="200.2" y1="1823" x2="215.7" y2="1823" stroke="#000" stroke-width="4.6"/>
<line x1="200.2" y1="1706.77" x2="215.7" y2="1706.77" stroke="#000" stroke-width="4.6"/>
<line x1="200.2" y1="1590.54" x2="215.7" y2="1590.54" stroke="#000" stroke-width="4.6"/>
<line x1="200.2" y1="1474.31" x2="215.7" y2="1474.31" stroke="#000" stroke-width="4.6"/>
<line x1="200.2" y1="1358.09" x2="215.7" y2="1358.09" stroke="#000" stroke-width="4.6"/>
<line x1="200.2" y1="1241.86" x2="215.7" y2="1241.86" stroke="#000" stroke-width="4.6"/>
<line x1="200.2" y1="1125.63" x2="215.7" y2="1125.63" stroke="#000" stroke-width="4.6"/>
<line x1="200.2" y1="1009.4" x2="215.7" y2="1009.4" stroke="#000" stroke-width="4.6"/>
<line x1="200.2" y1="1764.89" x2="207.7" y2="1764.89" stroke="#000" stroke-width="4.6"/>
<line x1="200.2" y1="1648.66" x2="207.7" y2="1648.66" stroke="#000" stroke-width="4.6"/>
<line x1="200.2" y1="1532.43" x2="207.7" y2="1532.43" stroke="#000" stroke-width="4.6"/>
<line x1="200.2" y1="1416.2" x2="207.7" y2="1416.2" stroke="#000" stroke-width="4.6"/>
<line x1="200.2" y1="1299.97" x2="207.7" y2="1299.97" stroke="#000" stroke-width="4.6"/>
<line x1="200.2" y1="1183.74" x2="207.7" y2="1183.74" stroke="#000" stroke-width="4.6"/>
<line x1="200.2" y1="1067.51" x2="207.7" y2="1067.51" stroke="#000" stroke-width="4.6"/>
<text x="200.2" y="1873" font-size="42" text-anchor="middle" fill="#000" font-weight="bold" >-1.35</text>
<text x="334.91" y="1873" font-size="42" text-anchor="middle" fill="#000" font-weight="bold" >-1.30</text>
<text x="469.61" y="1873" font-size="42" text-anchor="middle" fill="#000" font-weight="bold" >-1.25</text>
<text x="604.32" y="1873" font-size="42" text-anchor="middle" fill="#000" font-weight="bold" >-1.20</text>
<text x="739.03" y="1873" font-size="42" text-anchor="middle" fill="#000" font-weight="bold" >-1.15</text>
<text x="873.73" y="1873" font-size="42" text-anchor="middle" fill="#000" font-weight="bold" >-1.10</text>
<text x="1008.44" y="1873" font-size="42" text-anchor="middle" fill="#000" font-weight="bold" >-1.05</text>
<text x="1143.15" y="1873" font-size="42" text-anchor="middle" fill="#000" font-weight="bold" >-1.00</text>
<text x="182.5" y="1835.5" font-size="42" text-anchor="end" fill="#000" font-weight="bold" >2.08</text>
<text x="182.5" y="1719.27" font-size="42" text-anchor="end" fill="#000" font-weight="bold" >2.10</text>
<text x="182.5" y="1603.04" font-size="42" text-anchor="end" fill="#000" font-weight="bold" >2.12</text>
<text x="182.5" y="1486.81" font-size="42" text-anchor="end" fill="#000" font-weight="bold" >2.14</text>
<text x="182.5" y="1370.59" font-size="42" text-anchor="end" fill="#000" font-weight="bold" >2.16</text>
<text x="182.5" y="1254.36" font-size="42" text-anchor="end" fill="#000" font-weight="bold" >2.18</text>
<text x="182.5" y="1138.13" font-size="42" text-anchor="end" fill="#000" font-weight="bold" >2.20</text>
<text x="182.5" y="1021.9" font-size="42" text-anchor="end" fill="#000" font-weight="bold" >2.22</text>
<text x="871" y="1083.1" font-size="38" text-anchor="start" fill="#000" font-weight="bold" >Reduction Peak</text>
<text transform="translate(577,1169) rotate(17) skewX(0)" font-size="34" font-weight="bold" fill="#ff0000">113.3 mV dec<tspan font-size="22.1" dy="-13.94">&#8722;1</tspan></text>
<text transform="translate(565,1545) rotate(20) skewX(0)" font-size="34" font-weight="bold" fill="#0000ff">198.9 mV dec<tspan font-size="22.1" dy="-13.94">&#8722;1</tspan></text>
<circle cx="282.9" cy="1641" r="10" fill="url(#gr)"/>
<circle cx="282.9" cy="1684.6" r="10" fill="url(#gb)"/>
<line x1="241.9" y1="1728.8" x2="324.7" y2="1728.8" stroke="#ff0000" stroke-width="3.8"/>
<line x1="241.9" y1="1771.9" x2="324.7" y2="1771.9" stroke="#0000ff" stroke-width="3.8"/>
<text x="331.9" y="1652.9" font-size="34.6" text-anchor="start" fill="#000" font-weight="bold" >HC-Co-YC-0.075M/S</text>
<text x="331.9" y="1696.5" font-size="34.6" text-anchor="start" fill="#000" font-weight="bold" >HC-Co-YC-0.05M/S</text>
<text x="331.9" y="1740.1" font-size="34.6" text-anchor="start" fill="#000" font-weight="bold" >Fitting HC-Co-YC-0.075M/S</text>
<text x="331.9" y="1783.8" font-size="34.6" text-anchor="start" fill="#000" font-weight="bold" >Fitting HC-Co-YC-0.05M/S</text>
<text x="20.7" y="1012.6" font-size="64" text-anchor="start" fill="#000" font-weight="bold" >(c)</text>
<text transform="translate(706.1,1940.4) scale(1.042,1)" x="0" y="0" font-size="45" text-anchor="middle" font-weight="bold">Log|j| (mA cm<tspan font-size="29" dy="-19">&#8722;2</tspan><tspan dy="19">)</tspan></text>
<text transform="translate(80.9,1408) rotate(-90)" x="0" y="0" font-size="45" text-anchor="middle" font-weight="bold">Potential (V vs Li/Li<tspan font-size="29" dy="-19">+</tspan><tspan dy="19">)</tspan></text>
<line x1="1510.5" y1="1686.5" x2="2259" y2="1458" stroke="#ff0000" stroke-width="3"/>
<line x1="1500" y1="1416" x2="2266" y2="1068" stroke="#0000ff" stroke-width="3"/>
<circle cx="1512.3" cy="1671.3" r="9.6" fill="url(#gr)"/>
<circle cx="1541" cy="1665.8" r="9.6" fill="url(#gr)"/>
<circle cx="1567.9" cy="1660.2" r="9.6" fill="url(#gr)"/>
<circle cx="1593.9" cy="1654.6" r="9.6" fill="url(#gr)"/>
<circle cx="1618" cy="1649" r="9.6" fill="url(#gr)"/>
<circle cx="1643" cy="1643.5" r="9.6" fill="url(#gr)"/>
<circle cx="1668.1" cy="1637.9" r="9.6" fill="url(#gr)"/>
<circle cx="1693.2" cy="1631.4" r="9.6" fill="url(#gr)"/>
<circle cx="1715.4" cy="1626.8" r="9.6" fill="url(#gr)"/>
<circle cx="1736.8" cy="1621.2" r="9.6" fill="url(#gr)"/>
<circle cx="1757.2" cy="1614.7" r="9.6" fill="url(#gr)"/>
<circle cx="1778.5" cy="1609.2" r="9.6" fill="url(#gr)"/>
<circle cx="1801.7" cy="1603.6" r="9.6" fill="url(#gr)"/>
<circle cx="1824" cy="1598" r="9.6" fill="url(#gr)"/>
<circle cx="1845.3" cy="1592.5" r="9.6" fill="url(#gr)"/>
<circle cx="1865.7" cy="1586.9" r="9.6" fill="url(#gr)"/>
<circle cx="1883.5" cy="1580.4" r="9.6" fill="url(#gr)"/>
<circle cx="1903.2" cy="1574.7" r="9.6" fill="url(#gr)"/>
<circle cx="1923.6" cy="1568.2" r="9.6" fill="url(#gr)"/>
<circle cx="1944" cy="1562.7" r="9.6" fill="url(#gr)"/>
<circle cx="1963.5" cy="1556.2" r="9.6" fill="url(#gr)"/>
<circle cx="1980.2" cy="1550.6" r="9.6" fill="url(#gr)"/>
<circle cx="1996.9" cy="1545" r="9.6" fill="url(#gr)"/>
<circle cx="2017.3" cy="1539.5" r="9.6" fill="url(#gr)"/>
<circle cx="2038.6" cy="1533.9" r="9.6" fill="url(#gr)"/>
<circle cx="2057.2" cy="1528.3" r="9.6" fill="url(#gr)"/>
<circle cx="2069.2" cy="1522.8" r="9.6" fill="url(#gr)"/>
<circle cx="2084.1" cy="1517.2" r="9.6" fill="url(#gr)"/>
<circle cx="2100.8" cy="1511.6" r="9.6" fill="url(#gr)"/>
<circle cx="2121.2" cy="1505.1" r="9.6" fill="url(#gr)"/>
<circle cx="2137" cy="1499.6" r="9.6" fill="url(#gr)"/>
<circle cx="2150.9" cy="1493.1" r="9.6" fill="url(#gr)"/>
<circle cx="2165.7" cy="1486.6" r="9.6" fill="url(#gr)"/>
<circle cx="2180.6" cy="1481" r="9.6" fill="url(#gr)"/>
<circle cx="2199.1" cy="1475.5" r="9.6" fill="url(#gr)"/>
<circle cx="2214.9" cy="1469" r="9.6" fill="url(#gr)"/>
<circle cx="2228.8" cy="1462.5" r="9.6" fill="url(#gr)"/>
<circle cx="2243.6" cy="1457.8" r="9.6" fill="url(#gr)"/>
<circle cx="2258.5" cy="1453.2" r="9.6" fill="url(#gr)"/>
<circle cx="1516.35" cy="1412.04" r="9.3" fill="url(#gb)"/>
<circle cx="1529.87" cy="1406.92" r="9.3" fill="url(#gb)"/>
<circle cx="1543.34" cy="1401.79" r="9.3" fill="url(#gb)"/>
<circle cx="1556.76" cy="1396.64" r="9.3" fill="url(#gb)"/>
<circle cx="1570.12" cy="1391.46" r="9.3" fill="url(#gb)"/>
<circle cx="1583.41" cy="1386.22" r="9.3" fill="url(#gb)"/>
<circle cx="1596.62" cy="1380.9" r="9.3" fill="url(#gb)"/>
<circle cx="1609.76" cy="1375.52" r="9.3" fill="url(#gb)"/>
<circle cx="1622.84" cy="1370.11" r="9.3" fill="url(#gb)"/>
<circle cx="1635.87" cy="1364.66" r="9.3" fill="url(#gb)"/>
<circle cx="1648.83" cy="1359.18" r="9.3" fill="url(#gb)"/>
<circle cx="1661.74" cy="1353.68" r="9.3" fill="url(#gb)"/>
<circle cx="1674.59" cy="1348.15" r="9.3" fill="url(#gb)"/>
<circle cx="1687.39" cy="1342.59" r="9.3" fill="url(#gb)"/>
<circle cx="1700.13" cy="1337.01" r="9.3" fill="url(#gb)"/>
<circle cx="1712.81" cy="1331.4" r="9.3" fill="url(#gb)"/>
<circle cx="1725.43" cy="1325.75" r="9.3" fill="url(#gb)"/>
<circle cx="1737.99" cy="1320.08" r="9.3" fill="url(#gb)"/>
<circle cx="1750.51" cy="1314.41" r="9.3" fill="url(#gb)"/>
<circle cx="1762.99" cy="1308.74" r="9.3" fill="url(#gb)"/>
<circle cx="1775.42" cy="1303.08" r="9.3" fill="url(#gb)"/>
<circle cx="1787.82" cy="1297.44" r="9.3" fill="url(#gb)"/>
<circle cx="1800.19" cy="1291.82" r="9.3" fill="url(#gb)"/>
<circle cx="1812.52" cy="1286.23" r="9.3" fill="url(#gb)"/>
<circle cx="1824.81" cy="1280.65" r="9.3" fill="url(#gb)"/>
<circle cx="1837.07" cy="1275.08" r="9.3" fill="url(#gb)"/>
<circle cx="1849.28" cy="1269.53" r="9.3" fill="url(#gb)"/>
<circle cx="1861.46" cy="1263.98" r="9.3" fill="url(#gb)"/>
<circle cx="1873.6" cy="1258.45" r="9.3" fill="url(#gb)"/>
<circle cx="1885.7" cy="1252.93" r="9.3" fill="url(#gb)"/>
<circle cx="1897.77" cy="1247.43" r="9.3" fill="url(#gb)"/>
<circle cx="1909.8" cy="1241.95" r="9.3" fill="url(#gb)"/>
<circle cx="1921.79" cy="1236.48" r="9.3" fill="url(#gb)"/>
<circle cx="1933.75" cy="1231.03" r="9.3" fill="url(#gb)"/>
<circle cx="1945.68" cy="1225.59" r="9.3" fill="url(#gb)"/>
<circle cx="1957.56" cy="1220.17" r="9.3" fill="url(#gb)"/>
<circle cx="1969.41" cy="1214.76" r="9.3" fill="url(#gb)"/>
<circle cx="1981.23" cy="1209.36" r="9.3" fill="url(#gb)"/>
<circle cx="1993" cy="1203.97" r="9.3" fill="url(#gb)"/>
<circle cx="2004.75" cy="1198.61" r="9.3" fill="url(#gb)"/>
<circle cx="2016.47" cy="1193.28" r="9.3" fill="url(#gb)"/>
<circle cx="2028.16" cy="1187.99" r="9.3" fill="url(#gb)"/>
<circle cx="2039.82" cy="1182.72" r="9.3" fill="url(#gb)"/>
<circle cx="2051.44" cy="1177.45" r="9.3" fill="url(#gb)"/>
<circle cx="2063.01" cy="1172.17" r="9.3" fill="url(#gb)"/>
<circle cx="2074.53" cy="1166.86" r="9.3" fill="url(#gb)"/>
<circle cx="2085.98" cy="1161.5" r="9.3" fill="url(#gb)"/>
<circle cx="2097.36" cy="1156.08" r="9.3" fill="url(#gb)"/>
<circle cx="2108.65" cy="1150.55" r="9.3" fill="url(#gb)"/>
<circle cx="2119.86" cy="1144.94" r="9.3" fill="url(#gb)"/>
<circle cx="2131" cy="1139.28" r="9.3" fill="url(#gb)"/>
<circle cx="2142.07" cy="1133.57" r="9.3" fill="url(#gb)"/>
<circle cx="2153.1" cy="1127.86" r="9.3" fill="url(#gb)"/>
<circle cx="2164.1" cy="1122.16" r="9.3" fill="url(#gb)"/>
<circle cx="2175.08" cy="1116.52" r="9.3" fill="url(#gb)"/>
<circle cx="2186.06" cy="1110.95" r="9.3" fill="url(#gb)"/>
<circle cx="2197.01" cy="1105.42" r="9.3" fill="url(#gb)"/>
<circle cx="2207.94" cy="1099.91" r="9.3" fill="url(#gb)"/>
<circle cx="2218.84" cy="1094.42" r="9.3" fill="url(#gb)"/>
<circle cx="2229.7" cy="1088.95" r="9.3" fill="url(#gb)"/>
<circle cx="2240.54" cy="1083.5" r="9.3" fill="url(#gb)"/>
<circle cx="2251.35" cy="1078.07" r="9.3" fill="url(#gb)"/>
<circle cx="2262.12" cy="1072.66" r="9.3" fill="url(#gb)"/>
<circle cx="1500.8" cy="1412.7" r="9.3" fill="url(#gb)"/>
<circle cx="1514.35" cy="1407.54" r="9.3" fill="url(#gb)"/>
<circle cx="1527.87" cy="1402.42" r="9.3" fill="url(#gb)"/>
<circle cx="1541.34" cy="1397.29" r="9.3" fill="url(#gb)"/>
<circle cx="1554.76" cy="1392.14" r="9.3" fill="url(#gb)"/>
<circle cx="1568.12" cy="1386.96" r="9.3" fill="url(#gb)"/>
<circle cx="1581.41" cy="1381.72" r="9.3" fill="url(#gb)"/>
<circle cx="1594.62" cy="1376.4" r="9.3" fill="url(#gb)"/>
<circle cx="1607.76" cy="1371.02" r="9.3" fill="url(#gb)"/>
<circle cx="1620.84" cy="1365.61" r="9.3" fill="url(#gb)"/>
<circle cx="1633.87" cy="1360.16" r="9.3" fill="url(#gb)"/>
<circle cx="1646.83" cy="1354.68" r="9.3" fill="url(#gb)"/>
<circle cx="1659.74" cy="1349.18" r="9.3" fill="url(#gb)"/>
<circle cx="1672.59" cy="1343.65" r="9.3" fill="url(#gb)"/>
<circle cx="1685.39" cy="1338.09" r="9.3" fill="url(#gb)"/>
<circle cx="1698.13" cy="1332.51" r="9.3" fill="url(#gb)"/>
<circle cx="1710.81" cy="1326.9" r="9.3" fill="url(#gb)"/>
<circle cx="1723.43" cy="1321.25" r="9.3" fill="url(#gb)"/>
<circle cx="1735.99" cy="1315.58" r="9.3" fill="url(#gb)"/>
<circle cx="1748.51" cy="1309.91" r="9.3" fill="url(#gb)"/>
<circle cx="1760.99" cy="1304.24" r="9.3" fill="url(#gb)"/>
<circle cx="1773.42" cy="1298.58" r="9.3" fill="url(#gb)"/>
<circle cx="1785.82" cy="1292.94" r="9.3" fill="url(#gb)"/>
<circle cx="1798.19" cy="1287.32" r="9.3" fill="url(#gb)"/>
<circle cx="1810.52" cy="1281.73" r="9.3" fill="url(#gb)"/>
<circle cx="1822.81" cy="1276.15" r="9.3" fill="url(#gb)"/>
<circle cx="1835.07" cy="1270.58" r="9.3" fill="url(#gb)"/>
<circle cx="1847.28" cy="1265.03" r="9.3" fill="url(#gb)"/>
<circle cx="1859.46" cy="1259.48" r="9.3" fill="url(#gb)"/>
<circle cx="1871.6" cy="1253.95" r="9.3" fill="url(#gb)"/>
<circle cx="1883.7" cy="1248.43" r="9.3" fill="url(#gb)"/>
<circle cx="1895.77" cy="1242.93" r="9.3" fill="url(#gb)"/>
<circle cx="1907.8" cy="1237.45" r="9.3" fill="url(#gb)"/>
<circle cx="1919.79" cy="1231.98" r="9.3" fill="url(#gb)"/>
<circle cx="1931.75" cy="1226.53" r="9.3" fill="url(#gb)"/>
<circle cx="1943.68" cy="1221.09" r="9.3" fill="url(#gb)"/>
<circle cx="1955.56" cy="1215.67" r="9.3" fill="url(#gb)"/>
<circle cx="1967.41" cy="1210.26" r="9.3" fill="url(#gb)"/>
<circle cx="1979.23" cy="1204.86" r="9.3" fill="url(#gb)"/>
<circle cx="1991" cy="1199.47" r="9.3" fill="url(#gb)"/>
<circle cx="2002.75" cy="1194.11" r="9.3" fill="url(#gb)"/>
<circle cx="2014.47" cy="1188.78" r="9.3" fill="url(#gb)"/>
<circle cx="2026.16" cy="1183.49" r="9.3" fill="url(#gb)"/>
<circle cx="2037.82" cy="1178.22" r="9.3" fill="url(#gb)"/>
<circle cx="2049.44" cy="1172.95" r="9.3" fill="url(#gb)"/>
<circle cx="2061.01" cy="1167.67" r="9.3" fill="url(#gb)"/>
<circle cx="2072.53" cy="1162.36" r="9.3" fill="url(#gb)"/>
<circle cx="2083.98" cy="1157" r="9.3" fill="url(#gb)"/>
<circle cx="2095.36" cy="1151.58" r="9.3" fill="url(#gb)"/>
<circle cx="2106.65" cy="1146.05" r="9.3" fill="url(#gb)"/>
<circle cx="2117.86" cy="1140.44" r="9.3" fill="url(#gb)"/>
<circle cx="2129" cy="1134.78" r="9.3" fill="url(#gb)"/>
<circle cx="2140.07" cy="1129.07" r="9.3" fill="url(#gb)"/>
<circle cx="2151.1" cy="1123.36" r="9.3" fill="url(#gb)"/>
<circle cx="2162.1" cy="1117.66" r="9.3" fill="url(#gb)"/>
<circle cx="2173.08" cy="1112.02" r="9.3" fill="url(#gb)"/>
<circle cx="2184.06" cy="1106.45" r="9.3" fill="url(#gb)"/>
<circle cx="2195.01" cy="1100.92" r="9.3" fill="url(#gb)"/>
<circle cx="2205.94" cy="1095.41" r="9.3" fill="url(#gb)"/>
<circle cx="2216.84" cy="1089.92" r="9.3" fill="url(#gb)"/>
<circle cx="2227.7" cy="1084.45" r="9.3" fill="url(#gb)"/>
<circle cx="2238.54" cy="1079" r="9.3" fill="url(#gb)"/>
<circle cx="2249.35" cy="1073.57" r="9.3" fill="url(#gb)"/>
<circle cx="2260.12" cy="1068.16" r="9.3" fill="url(#gb)"/>
<circle cx="2266.4" cy="1065" r="9.3" fill="url(#gb)"/>
<rect x="1397.3" y="1010.3" width="1002.5" height="806.9" fill="none" stroke="#000" stroke-width="5.5"/>
<line x1="1397.3" y1="1817.2" x2="1397.3" y2="1801.7" stroke="#000" stroke-width="4.6"/>
<line x1="1522.61" y1="1817.2" x2="1522.61" y2="1801.7" stroke="#000" stroke-width="4.6"/>
<line x1="1647.93" y1="1817.2" x2="1647.93" y2="1801.7" stroke="#000" stroke-width="4.6"/>
<line x1="1773.24" y1="1817.2" x2="1773.24" y2="1801.7" stroke="#000" stroke-width="4.6"/>
<line x1="1898.55" y1="1817.2" x2="1898.55" y2="1801.7" stroke="#000" stroke-width="4.6"/>
<line x1="2023.86" y1="1817.2" x2="2023.86" y2="1801.7" stroke="#000" stroke-width="4.6"/>
<line x1="2149.18" y1="1817.2" x2="2149.18" y2="1801.7" stroke="#000" stroke-width="4.6"/>
<line x1="2274.49" y1="1817.2" x2="2274.49" y2="1801.7" stroke="#000" stroke-width="4.6"/>
<line x1="2399.8" y1="1817.2" x2="2399.8" y2="1801.7" stroke="#000" stroke-width="4.6"/>
<line x1="1459.96" y1="1817.2" x2="1459.96" y2="1809.7" stroke="#000" stroke-width="4.6"/>
<line x1="1585.27" y1="1817.2" x2="1585.27" y2="1809.7" stroke="#000" stroke-width="4.6"/>
<line x1="1710.58" y1="1817.2" x2="1710.58" y2="1809.7" stroke="#000" stroke-width="4.6"/>
<line x1="1835.89" y1="1817.2" x2="1835.89" y2="1809.7" stroke="#000" stroke-width="4.6"/>
<line x1="1961.21" y1="1817.2" x2="1961.21" y2="1809.7" stroke="#000" stroke-width="4.6"/>
<line x1="2086.52" y1="1817.2" x2="2086.52" y2="1809.7" stroke="#000" stroke-width="4.6"/>
<line x1="2211.83" y1="1817.2" x2="2211.83" y2="1809.7" stroke="#000" stroke-width="4.6"/>
<line x1="2337.14" y1="1817.2" x2="2337.14" y2="1809.7" stroke="#000" stroke-width="4.6"/>
<line x1="1397.3" y1="1817.2" x2="1412.8" y2="1817.2" stroke="#000" stroke-width="4.6"/>
<line x1="1397.3" y1="1701.93" x2="1412.8" y2="1701.93" stroke="#000" stroke-width="4.6"/>
<line x1="1397.3" y1="1586.66" x2="1412.8" y2="1586.66" stroke="#000" stroke-width="4.6"/>
<line x1="1397.3" y1="1471.39" x2="1412.8" y2="1471.39" stroke="#000" stroke-width="4.6"/>
<line x1="1397.3" y1="1356.11" x2="1412.8" y2="1356.11" stroke="#000" stroke-width="4.6"/>
<line x1="1397.3" y1="1240.84" x2="1412.8" y2="1240.84" stroke="#000" stroke-width="4.6"/>
<line x1="1397.3" y1="1125.57" x2="1412.8" y2="1125.57" stroke="#000" stroke-width="4.6"/>
<line x1="1397.3" y1="1010.3" x2="1412.8" y2="1010.3" stroke="#000" stroke-width="4.6"/>
<line x1="1397.3" y1="1759.56" x2="1404.8" y2="1759.56" stroke="#000" stroke-width="4.6"/>
<line x1="1397.3" y1="1644.29" x2="1404.8" y2="1644.29" stroke="#000" stroke-width="4.6"/>
<line x1="1397.3" y1="1529.02" x2="1404.8" y2="1529.02" stroke="#000" stroke-width="4.6"/>
<line x1="1397.3" y1="1413.75" x2="1404.8" y2="1413.75" stroke="#000" stroke-width="4.6"/>
<line x1="1397.3" y1="1298.48" x2="1404.8" y2="1298.48" stroke="#000" stroke-width="4.6"/>
<line x1="1397.3" y1="1183.21" x2="1404.8" y2="1183.21" stroke="#000" stroke-width="4.6"/>
<line x1="1397.3" y1="1067.94" x2="1404.8" y2="1067.94" stroke="#000" stroke-width="4.6"/>
<text x="1397.3" y="1867.5" font-size="42" text-anchor="middle" fill="#000" font-weight="bold" >-1.65</text>
<text x="1522.61" y="1867.5" font-size="42" text-anchor="middle" fill="#000" font-weight="bold" >-1.60</text>
<text x="1647.93" y="1867.5" font-size="42" text-anchor="middle" fill="#000" font-weight="bold" >-1.55</text>
<text x="1773.24" y="1867.5" font-size="42" text-anchor="middle" fill="#000" font-weight="bold" >-1.50</text>
<text x="1898.55" y="1867.5" font-size="42" text-anchor="middle" fill="#000" font-weight="bold" >-1.45</text>
<text x="2023.86" y="1867.5" font-size="42" text-anchor="middle" fill="#000" font-weight="bold" >-1.40</text>
<text x="2149.18" y="1867.5" font-size="42" text-anchor="middle" fill="#000" font-weight="bold" >-1.35</text>
<text x="2274.49" y="1867.5" font-size="42" text-anchor="middle" fill="#000" font-weight="bold" >-1.30</text>
<text x="2399.8" y="1867.5" font-size="42" text-anchor="middle" fill="#000" font-weight="bold" >-1.25</text>
<text x="1380" y="1829.7" font-size="42" text-anchor="end" fill="#000" font-weight="bold" >2.26</text>
<text x="1380" y="1714.43" font-size="42" text-anchor="end" fill="#000" font-weight="bold" >2.27</text>
<text x="1380" y="1599.16" font-size="42" text-anchor="end" fill="#000" font-weight="bold" >2.28</text>
<text x="1380" y="1483.89" font-size="42" text-anchor="end" fill="#000" font-weight="bold" >2.29</text>
<text x="1380" y="1368.61" font-size="42" text-anchor="end" fill="#000" font-weight="bold" >2.30</text>
<text x="1380" y="1253.34" font-size="42" text-anchor="end" fill="#000" font-weight="bold" >2.31</text>
<text x="1380" y="1138.07" font-size="42" text-anchor="end" fill="#000" font-weight="bold" >2.32</text>
<text x="1380" y="1022.8" font-size="42" text-anchor="end" fill="#000" font-weight="bold" >2.33</text>
<text x="1444.4" y="1072.3" font-size="38" text-anchor="start" fill="#000" font-weight="bold" >Oxidation Peak</text>
<text transform="translate(1747,1277) rotate(-24.5) skewX(0)" font-size="34" font-weight="bold" fill="#0000ff">98.6 mV dec<tspan font-size="22.1" dy="-13.94">&#8722;1</tspan></text>
<text transform="translate(1771,1581) rotate(-15) skewX(0)" font-size="34" font-weight="bold" fill="#ff0000">64.3 mV dec<tspan font-size="22.1" dy="-13.94">&#8722;1</tspan></text>
<circle cx="1892.1" cy="1632.3" r="10" fill="url(#gr)"/>
<circle cx="1892.1" cy="1675.9" r="10" fill="url(#gb)"/>
<line x1="1851.2" y1="1719.5" x2="1933.6" y2="1719.5" stroke="#ff0000" stroke-width="3.8"/>
<line x1="1851.2" y1="1762.1" x2="1933.6" y2="1762.1" stroke="#0000ff" stroke-width="3.8"/>
<text x="1941.2" y="1643.6" font-size="34.35" text-anchor="start" fill="#000" font-weight="bold" >HC-Co-YC-0.075M/S</text>
<text x="1941.2" y="1687.2" font-size="34.35" text-anchor="start" fill="#000" font-weight="bold" >HC-Co-YC-0.05M/S</text>
<text x="1941.2" y="1730.9" font-size="34.35" text-anchor="start" fill="#000" font-weight="bold" >Fitting HC-Co-YC-0.075M/S</text>
<text x="1941.2" y="1774.5" font-size="34.35" text-anchor="start" fill="#000" font-weight="bold" >Fitting HC-Co-YC-0.05M/S</text>
<text x="1217.4" y="1024.7" font-size="64" text-anchor="start" fill="#000" font-weight="bold" >(d)</text>
<text transform="translate(1898.9,1934.1) scale(1.036,1)" x="0" y="0" font-size="45" text-anchor="middle" font-weight="bold">Log|j| (mA cm<tspan font-size="29" dy="-19">&#8722;2</tspan><tspan dy="19">)</tspan></text>
<text transform="translate(1278.8,1409.5) rotate(-90)" x="0" y="0" font-size="45" text-anchor="middle" font-weight="bold">Potential (V vs Li/Li<tspan font-size="29" dy="-19">+</tspan><tspan dy="19">)</tspan></text>
</svg>
</body></html>
